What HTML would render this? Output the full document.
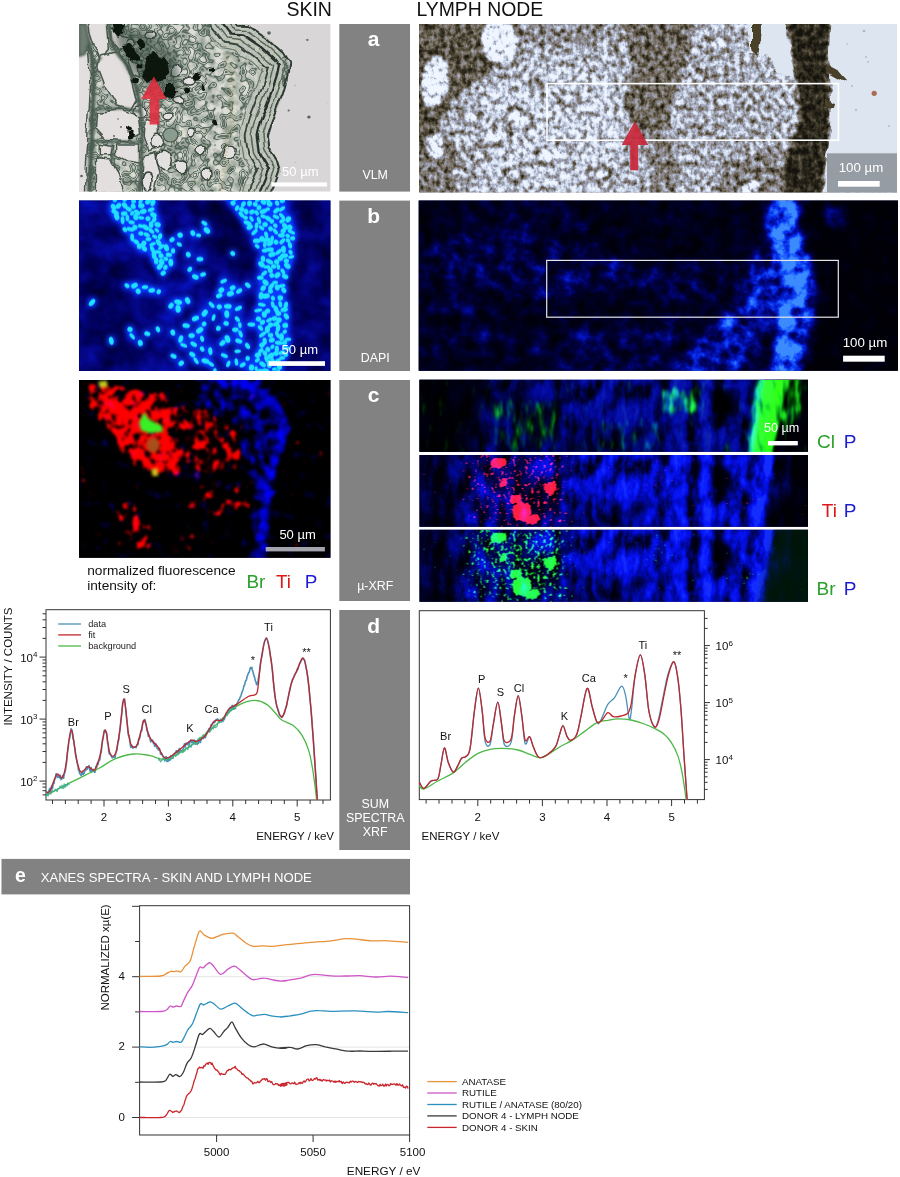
<!DOCTYPE html>
<html lang="en"><head><meta charset="utf-8"><title>Figure</title>
<style>
html,body{margin:0;padding:0;background:#fff;}
body{width:900px;height:1177px;overflow:hidden;font-family:"Liberation Sans",sans-serif;}
svg{display:block;}
</style></head><body>
<svg width="900" height="1177" viewBox="0 0 900 1177">
<defs>

<filter id="netA" x="-5%" y="-5%" width="110%" height="110%" color-interpolation-filters="sRGB">
 <feGaussianBlur in="SourceGraphic" stdDeviation="1.2" result="m"/>
 <feTurbulence type="fractalNoise" baseFrequency="0.155" numOctaves="1" seed="11" result="n"/>
 <feColorMatrix in="n" type="matrix" values="1 0 0 0 0 1 0 0 0 0 1 0 0 0 0 0 0 0 0 1" result="ng"/>
 <feComposite in="m" in2="ng" operator="arithmetic" k1="0" k2="1.5" k3="2.0" k4="-1.25" result="v"/>
 <feColorMatrix in="v" type="matrix" values="0 0 0 0 0.24 0 0 0 0 0.32 0 0 0 0 0.27 1 0 0 0 0" result="a"/>
 <feComponentTransfer in="a"><feFuncA type="table" tableValues="0 0 0 .2 .6 1 1 .5 .15 .15 .5 1 1 .5 .1 0 0 0 0 0 0"/></feComponentTransfer>
 <feGaussianBlur stdDeviation="0.6"/>
</filter>
<filter id="roughV" x="-10%" y="-10%" width="120%" height="120%">
 <feTurbulence type="fractalNoise" baseFrequency="0.06" numOctaves="2" seed="14" result="n"/>
 <feDisplacementMap in="SourceGraphic" in2="n" scale="8" xChannelSelector="R" yChannelSelector="G"/>
 <feGaussianBlur stdDeviation="0.5"/>
</filter>
<filter id="mott" x="0" y="0" width="100%" height="100%" color-interpolation-filters="sRGB">
 <feTurbulence type="fractalNoise" baseFrequency="0.11" numOctaves="3" seed="21" result="n"/>
 <feColorMatrix in="n" type="matrix" values="0 0 0 0 0.3 0 0 0 0 0.38 0 0 0 0 0.33 0 1.2 0 0 -0.42" result="a"/>
 <feComposite in="a" in2="SourceGraphic" operator="in"/>
</filter>
<filter id="roughE" x="-10%" y="-10%" width="120%" height="120%">
 <feTurbulence type="fractalNoise" baseFrequency="0.045" numOctaves="2" seed="2" result="n"/>
 <feDisplacementMap in="SourceGraphic" in2="n" scale="7" xChannelSelector="R" yChannelSelector="G"/>
 <feGaussianBlur stdDeviation="0.55"/>
</filter>
<filter id="b05"><feGaussianBlur stdDeviation="0.5"/></filter>
<filter id="b08"><feGaussianBlur stdDeviation="0.8"/></filter>
<filter id="b15"><feGaussianBlur stdDeviation="1.5"/></filter>
<filter id="b3"><feGaussianBlur stdDeviation="3"/></filter>
<filter id="b6"><feGaussianBlur stdDeviation="6"/></filter>
<filter id="rough" x="-10%" y="-10%" width="120%" height="120%">
 <feTurbulence type="fractalNoise" baseFrequency="0.12" numOctaves="2" seed="4" result="n"/>
 <feDisplacementMap in="SourceGraphic" in2="n" scale="7" xChannelSelector="R" yChannelSelector="G"/>
 <feGaussianBlur stdDeviation="0.45"/>
</filter>


<filter id="lymA" x="-5%" y="-5%" width="110%" height="110%" color-interpolation-filters="sRGB">
 <feGaussianBlur in="SourceGraphic" stdDeviation="2.2" result="m"/>
 <feTurbulence type="fractalNoise" baseFrequency="0.19 0.16" numOctaves="3" seed="23" result="n"/>
 <feColorMatrix in="n" type="matrix" values="1 0 0 0 0 1 0 0 0 0 1 0 0 0 0 0 0 0 0 1" result="ng"/>
 <feComposite in="m" in2="ng" operator="arithmetic" k1="1.2" k2="0.4" k3="0.5" k4="-0.25" result="v"/>
 <feComponentTransfer in="v"><feFuncR type="table" tableValues="0.086 0.157 0.251 0.376 0.494 0.557 0.635 0.745 0.843 0.902 0.941"/><feFuncG type="table" tableValues="0.078 0.145 0.231 0.345 0.463 0.553 0.659 0.784 0.882 0.933 0.965"/><feFuncB type="table" tableValues="0.055 0.102 0.173 0.275 0.431 0.588 0.729 0.863 0.949 0.980 1.000"/></feComponentTransfer>
 <feGaussianBlur stdDeviation="0.6"/>
</filter>
<filter id="rough2" x="-10%" y="-10%" width="120%" height="120%">
 <feTurbulence type="fractalNoise" baseFrequency="0.07" numOctaves="2" seed="9" result="n"/>
 <feDisplacementMap in="SourceGraphic" in2="n" scale="9" xChannelSelector="R" yChannelSelector="G"/>
 <feGaussianBlur stdDeviation="0.7"/>
</filter>


<filter id="glowB" x="-5%" y="-5%" width="110%" height="110%" color-interpolation-filters="sRGB">
 <feGaussianBlur in="SourceAlpha" stdDeviation="3" result="g"/>
 <feComponentTransfer in="g" result="g2"><feFuncA type="linear" slope="3"/></feComponentTransfer>
 <feFlood flood-color="#0a3cff"/><feComposite in2="g2" operator="in" result="glow"/>
 <feGaussianBlur in="SourceGraphic" stdDeviation="0.55" result="sg"/>
 <feMerge><feMergeNode in="glow"/><feMergeNode in="sg"/></feMerge>
</filter>
<filter id="hazeB" x="-5%" y="-5%" width="110%" height="110%" color-interpolation-filters="sRGB">
 <feGaussianBlur in="SourceGraphic" stdDeviation="5" result="m"/>
 <feTurbulence type="fractalNoise" baseFrequency="0.05" numOctaves="3" seed="5" result="n"/>
 <feColorMatrix in="n" type="matrix" values="1 0 0 0 0 1 0 0 0 0 1 0 0 0 0 0 0 0 0 1" result="ng"/>
 <feComposite in="m" in2="ng" operator="arithmetic" k1="0" k2="1" k3="0.7" k4="-0.35" result="v"/>
 <feComponentTransfer in="v"><feFuncR type="table" tableValues="0 0 .01 .02 .02 .02 .03"/><feFuncG type="table" tableValues="0 0 .01 .03 .06 .12 .2"/><feFuncB type="table" tableValues=".16 .3 .42 .55 .7 .85 1"/></feComponentTransfer>
</filter>


<filter id="lymB" x="-5%" y="-5%" width="110%" height="110%" color-interpolation-filters="sRGB">
 <feGaussianBlur in="SourceGraphic" stdDeviation="4" result="m"/>
 <feTurbulence type="fractalNoise" baseFrequency="0.07" numOctaves="4" seed="31" result="n"/>
 <feColorMatrix in="n" type="matrix" values="1 0 0 0 0 1 0 0 0 0 1 0 0 0 0 0 0 0 0 1" result="ng"/>
 <feComposite in="m" in2="ng" operator="arithmetic" k1="1.1" k2="0.45" k3="0.45" k4="-0.225" result="v"/>
 <feComponentTransfer in="v"><feFuncR type="table" tableValues="0.000 0.000 0.000 0.000 0.000 0.004 0.008 0.020 0.047 0.125 0.235"/><feFuncG type="table" tableValues="0.000 0.000 0.000 0.000 0.004 0.016 0.047 0.118 0.243 0.392 0.549"/><feFuncB type="table" tableValues="0.024 0.055 0.102 0.165 0.275 0.424 0.627 0.824 0.961 1.000 1.000"/></feComponentTransfer>
</filter>


<filter id="xrfL" x="-5%" y="-5%" width="110%" height="110%" color-interpolation-filters="sRGB">
 <feGaussianBlur in="SourceGraphic" stdDeviation="2.2" result="m"/>
 <feTurbulence type="fractalNoise" baseFrequency="0.13 0.1" numOctaves="2" seed="8" result="n"/>
 <feColorMatrix in="n" type="matrix" values="1 0 0 0 0 0 1 0 0 0 0 0 1 0 0 0 0 0 0 1" result="ng"/>
 <feComposite in="m" in2="ng" operator="arithmetic" k1="0" k2="1" k3="1.25" k4="-0.625" result="v"/>
 <feComponentTransfer in="v"><feFuncR type="table" tableValues="0 0 0 0 .12 .65 1 1 1 1 1"/><feFuncG type="table" tableValues="0 0 0 0 0 .05 .1 .14 .18 .2 .2"/><feFuncB type="table" tableValues="0 0 .04 .14 .3 .48 .66 .8 .9 .96 1"/></feComponentTransfer>
 <feGaussianBlur stdDeviation="0.9"/>
</filter>


<filter id="xrfB" x="-5%" y="-10%" width="110%" height="120%" color-interpolation-filters="sRGB">
 <feGaussianBlur in="SourceGraphic" stdDeviation="3" result="m"/>
 <feTurbulence type="fractalNoise" baseFrequency="0.075 0.04" numOctaves="4" seed="17" result="n"/>
 <feColorMatrix in="n" type="matrix" values="1 0 0 0 0 1 0 0 0 0 1 0 0 0 0 0 0 0 0 1" result="ng"/>
 <feComposite in="m" in2="ng" operator="arithmetic" k1="2.3" k2="-0.15" k3="0.25" k4="-0.125" result="v"/>
 <feComponentTransfer in="v"><feFuncR type="table" tableValues="0 0 0 0 0 0 .01 .02 .03 .05 .08"/><feFuncG type="table" tableValues="0 0 0 .01 .02 .03 .04 .06 .09 .13 .18"/><feFuncB type="table" tableValues=".02 .06 .13 .25 .42 .6 .78 .9 .97 1 1"/></feComponentTransfer>
</filter>
<filter id="dots" x="-5%" y="-10%" width="110%" height="120%" color-interpolation-filters="sRGB">
 <feGaussianBlur in="SourceGraphic" stdDeviation="6" result="m"/>
 <feTurbulence type="fractalNoise" baseFrequency="0.33 0.28" numOctaves="2" seed="41" result="n"/>
 <feColorMatrix in="n" type="matrix" values="1 0 0 0 0 1 0 0 0 0 1 0 0 0 0 0 0 0 0 1" result="ng"/>
 <feComposite in="m" in2="ng" operator="arithmetic" k1="0" k2="1" k3="1.5" k4="-0.75" result="v"/>
 <feComponentTransfer in="v"><feFuncR type="table" tableValues="0 0 0 0 0 .15 .7 1 1 1 1"/><feFuncG type="table" tableValues="0 0 0 0 0 .15 .7 1 1 1 1"/><feFuncB type="table" tableValues="0 0 0 0 0 0 .1 .2 .3 .3 .3"/></feComponentTransfer>
 <feGaussianBlur stdDeviation="0.5"/>
</filter>
<filter id="gband" x="-10%" y="-10%" width="120%" height="120%" color-interpolation-filters="sRGB">
 <feGaussianBlur in="SourceGraphic" stdDeviation="2.5" result="m"/>
 <feTurbulence type="fractalNoise" baseFrequency="0.16 0.05" numOctaves="2" seed="3" result="n"/>
 <feColorMatrix in="n" type="matrix" values="1 0 0 0 0 1 0 0 0 0 1 0 0 0 0 0 0 0 0 1" result="ng"/>
 <feComposite in="m" in2="ng" operator="arithmetic" k1="0" k2="1" k3="0.9" k4="-0.45" result="v"/>
 <feComponentTransfer in="v"><feFuncR type="table" tableValues="0 0 0 0 0 .05 .1 .15 .2 .2 .2"/><feFuncG type="table" tableValues="0 0 .04 .14 .32 .6 .85 1 1 1 1"/><feFuncB type="table" tableValues="0 0 0 0 0 .05 .1 .1 .1 .1 .1"/></feComponentTransfer>
</filter>
<g id="pmap">
 <rect x="-20" y="-20" width="430" height="112" fill="#585858"/>
 <path d="M-20,-20 H40 L35,92 H-20Z" fill="#343434"/>
 <path d="M40,-20 H150 L140,92 H35Z" fill="#626262"/>
 <path d="M150,-20 H330 L318,92 H140Z" fill="#8c8c8c"/>
 <path d="M196,-20 H266 L262,44 H200Z" fill="#acacac"/>
 <path d="M150,46 H236 V92 H140Z" fill="#6c6c6c"/>
 <path d="M236,-20 H246 L243,92 H233Z" fill="#5c5c5c"/>
 <path d="M294,12 h18 v22 h-18Z" fill="#181818"/>
 <path d="M106,28 h30 v30 h-30Z" fill="#343434"/>
 <path d="M342,-20 H358 L340,92 H324Z" fill="#d8d8d8"/>
 <path d="M358,-20 H430 V92 H340Z" fill="#303030"/>
 <path d="M374,-20 H430 V92 H368Z" fill="#0c0c0c"/>
</g>


<filter id="toRed" color-interpolation-filters="sRGB"><feColorMatrix type="matrix" values="1 0 0 0 0  0.12 0 0 0 0  0.16 0 0 0 0  0 0 0 1 0"/></filter>
<filter id="toGreen" color-interpolation-filters="sRGB"><feColorMatrix type="matrix" values="0.15 0 0 0 0  1 0 0 0 0  0.15 0 0 0 0  0 0 0 1 0"/></filter>

</defs>
<rect width="900" height="1177" fill="#fff"/>
<rect x="419" y="24" width="478" height="168.4" fill="#9a9ca0"/>
<rect x="79" y="200.6" width="251.4" height="170.4" fill="#081070"/>
<rect x="418.7" y="200.6" width="479" height="170.2" fill="#05083a"/>
<rect x="79" y="380" width="251.4" height="177.7" fill="#100410"/>
<rect x="419.5" y="379.8" width="388.5" height="72" fill="#06104a"/>
<rect x="419.5" y="455" width="388.5" height="71.8" fill="#0a0a5a"/>
<rect x="419.5" y="529.8" width="388.5" height="72" fill="#08185a"/>
<svg x="79" y="24" width="251.4" height="167.6" viewBox="0 0 251.4 167.6">
<rect width="252" height="168" fill="#d9d6d8"/>
<path d="M10.0,-12.0 150.0,-12.0 158.0,0.0 168.0,0.0 189.0,14.0 204.4,28.0 211.4,39.2 208.6,56.0 204.4,70.0 198.8,84.0 193.2,98.0 189.0,112.0 190.4,123.2 198.8,137.2 201.6,147.0 196.0,162.4 193.2,168.0 190.0,180.0 10.0,180.0 8.0,120.0 12.0,60.0Z" fill="#dcddd4"/>
<path d="M10.0,-12.0 150.0,-12.0 158.0,0.0 168.0,0.0 189.0,14.0 204.4,28.0 211.4,39.2 208.6,56.0 204.4,70.0 198.8,84.0 193.2,98.0 189.0,112.0 190.4,123.2 198.8,137.2 201.6,147.0 196.0,162.4 193.2,168.0 190.0,180.0 10.0,180.0 8.0,120.0 12.0,60.0Z" fill="#000" filter="url(#mott)"/>
<g filter="url(#netA)" opacity=".78"><rect x="-12" y="-12" width="276" height="192" fill="#fff"/><path d="M10.0,-12.0 150.0,-12.0 158.0,0.0 168.0,0.0 189.0,14.0 204.4,28.0 211.4,39.2 208.6,56.0 204.4,70.0 198.8,84.0 193.2,98.0 189.0,112.0 190.4,123.2 198.8,137.2 201.6,147.0 196.0,162.4 193.2,168.0 190.0,180.0 10.0,180.0 8.0,120.0 12.0,60.0Z" fill="#8a8a8a"/><path d="M118.0,8.0 150.0,10.0 172.0,40.0 168.0,70.0 160.0,100.0 156.0,180.0 132.0,180.0 128.0,110.0 112.0,70.0 100.0,40.0Z" fill="#a4a4a4"/><path d="M30.0,0.0 100.0,0.0 130.0,30.0 125.0,70.0 95.0,80.0 60.0,60.0 40.0,30.0Z" fill="#6c6c6c"/><path d="M7.7,-6.3 28.1,-6.3 30.3,25.3 21.3,36.6 14.5,23.1 10.0,9.5Z" fill="#f4f4f4"/><path d="M21.1,32.1 39.2,27.6 50.5,49.0 57.3,76.1 51.6,86.3 36.9,81.8 25.6,62.6 18.8,44.5Z" fill="#f4f4f4"/><path d="M18.6,87.4 40.1,85.1 59.3,91.9 61.6,110.0 49.2,116.7 27.7,115.6 17.5,104.3Z" fill="#f4f4f4"/><path d="M19.3,119.2 32.8,121.5 30.6,131.7 19.3,131.7Z" fill="#f4f4f4"/><path d="M35.6,119.9 60.5,119.9 60.5,139.1 46.9,136.9 35.6,130.1Z" fill="#f4f4f4"/><path d="M17.4,134.8 32.1,135.9 41.1,151.7 47.9,174.3 17.4,174.3Z" fill="#f4f4f4"/><path d="M-5.1,25.2 8.5,27.4 10.8,54.5 8.5,99.7 6.2,144.9 5.1,181.1 -5.1,181.1Z" fill="#f4f4f4"/><path d="M66.3,94.0 79.9,98.5 81.0,123.4 69.7,127.9 65.2,112.1Z" fill="#f4f4f4"/><path d="M65.2,131.9 76.5,129.6 81.0,149.9 74.3,170.3 63.0,170.3Z" fill="#f4f4f4"/><path d="M31.9,2.5 42.0,11.6 53.3,13.8 51.1,22.9 39.8,25.1 31.9,16.1Z" fill="#f4f4f4"/><path d="M48.2,34.9 58.4,39.4 60.6,53.0 53.8,50.7Z" fill="#f4f4f4"/><ellipse cx="78.0" cy="118.0" rx="6.0" ry="8.0" transform="rotate(20 78.0 118.0)" fill="#f4f4f4"/><ellipse cx="85.0" cy="136.0" rx="7.0" ry="9.0" transform="rotate(-20 85.0 136.0)" fill="#f4f4f4"/><ellipse cx="103.0" cy="143.0" rx="6.0" ry="6.0" fill="#f4f4f4"/><ellipse cx="69.0" cy="158.0" rx="5.0" ry="10.0" fill="#f4f4f4"/><ellipse cx="52.0" cy="20.0" rx="5.0" ry="5.0" fill="#f4f4f4"/><ellipse cx="97.0" cy="47.0" rx="6.0" ry="5.0" fill="#f4f4f4"/><ellipse cx="110.0" cy="58.0" rx="5.0" ry="4.0" fill="#f4f4f4"/><ellipse cx="72.0" cy="10.0" rx="5.0" ry="4.0" fill="#f4f4f4"/><ellipse cx="120.0" cy="125.0" rx="5.0" ry="5.0" fill="#f4f4f4"/><ellipse cx="112.0" cy="108.0" rx="4.0" ry="5.0" fill="#f4f4f4"/><ellipse cx="128.0" cy="150.0" rx="5.0" ry="6.0" fill="#f4f4f4"/><ellipse cx="150.0" cy="128.0" rx="5.0" ry="7.0" transform="rotate(15 150.0 128.0)" fill="#f4f4f4"/><ellipse cx="168.0" cy="157.0" rx="5.0" ry="4.0" transform="rotate(-30 168.0 157.0)" fill="#f4f4f4"/><ellipse cx="60.0" cy="88.0" rx="6.0" ry="5.0" fill="#f4f4f4"/><ellipse cx="88.0" cy="92.0" rx="5.0" ry="4.0" fill="#f4f4f4"/><ellipse cx="100.0" cy="75.0" rx="6.0" ry="4.0" fill="#f4f4f4"/></g>
<g fill="#e4dfdf" stroke="#46564c" stroke-width="1.5" filter="url(#roughV)">
<path d="M7.7,-6.3 28.1,-6.3 30.3,25.3 21.3,36.6 14.5,23.1 10.0,9.5Z" stroke-linejoin="round"/>
<path d="M21.1,32.1 39.2,27.6 50.5,49.0 57.3,76.1 51.6,86.3 36.9,81.8 25.6,62.6 18.8,44.5Z" stroke-linejoin="round"/>
<path d="M18.6,87.4 40.1,85.1 59.3,91.9 61.6,110.0 49.2,116.7 27.7,115.6 17.5,104.3Z" stroke-linejoin="round"/>
<path d="M19.3,119.2 32.8,121.5 30.6,131.7 19.3,131.7Z" stroke-linejoin="round"/>
<path d="M35.6,119.9 60.5,119.9 60.5,139.1 46.9,136.9 35.6,130.1Z" stroke-linejoin="round"/>
<path d="M17.4,134.8 32.1,135.9 41.1,151.7 47.9,174.3 17.4,174.3Z" stroke-linejoin="round"/>
<path d="M-5.1,25.2 8.5,27.4 10.8,54.5 8.5,99.7 6.2,144.9 5.1,181.1 -5.1,181.1Z" stroke-linejoin="round"/>
<path d="M66.3,94.0 79.9,98.5 81.0,123.4 69.7,127.9 65.2,112.1Z" stroke-linejoin="round"/>
<path d="M65.2,131.9 76.5,129.6 81.0,149.9 74.3,170.3 63.0,170.3Z" stroke-linejoin="round"/>
<path d="M31.9,2.5 42.0,11.6 53.3,13.8 51.1,22.9 39.8,25.1 31.9,16.1Z" stroke-linejoin="round"/>
<path d="M48.2,34.9 58.4,39.4 60.6,53.0 53.8,50.7Z" stroke-linejoin="round"/>
</g>
<g fill="#e3e0e0" stroke="#34423a" stroke-width="1.4" filter="url(#roughV)">
<ellipse cx="78.0" cy="118.0" rx="6.0" ry="8.0" transform="rotate(20 78.0 118.0)"/>
<ellipse cx="85.0" cy="136.0" rx="7.0" ry="9.0" transform="rotate(-20 85.0 136.0)"/>
<ellipse cx="103.0" cy="143.0" rx="6.0" ry="6.0"/>
<ellipse cx="69.0" cy="158.0" rx="5.0" ry="10.0"/>
<ellipse cx="52.0" cy="20.0" rx="5.0" ry="5.0"/>
<ellipse cx="97.0" cy="47.0" rx="6.0" ry="5.0"/>
<ellipse cx="110.0" cy="58.0" rx="5.0" ry="4.0"/>
<ellipse cx="72.0" cy="10.0" rx="5.0" ry="4.0"/>
<ellipse cx="120.0" cy="125.0" rx="5.0" ry="5.0"/>
<ellipse cx="112.0" cy="108.0" rx="4.0" ry="5.0"/>
<ellipse cx="128.0" cy="150.0" rx="5.0" ry="6.0"/>
<ellipse cx="150.0" cy="128.0" rx="5.0" ry="7.0" transform="rotate(15 150.0 128.0)"/>
<ellipse cx="168.0" cy="157.0" rx="5.0" ry="4.0" transform="rotate(-30 168.0 157.0)"/>
<ellipse cx="60.0" cy="88.0" rx="6.0" ry="5.0"/>
<ellipse cx="88.0" cy="92.0" rx="5.0" ry="4.0"/>
<ellipse cx="100.0" cy="75.0" rx="6.0" ry="4.0"/>
</g>
<ellipse cx="91.5" cy="111.0" rx="7.5" ry="7.0" fill="#8a9c8e" stroke="#4a5a50" stroke-width="1.2" filter="url(#b05)"/>
<g fill="none" stroke="#4a5b51" stroke-linecap="round" stroke-linejoin="round" filter="url(#b08)">
<path d="M2,-4 C8,12 13,26 14,44 C16,62 13,85 13,110 C12,135 11,150 10,172" stroke-width="4.6"/>
<path d="M29,-4 C30,18 36,28 46,38 C56,54 60,70 62,90 C64,110 63,135 60,172" stroke-width="3.4"/>
<path d="M14,40 C18,38 20,36 22,34" stroke-width="2"/>
<path d="M14,86 C22,85 30,84 40,84 C50,85 56,86 61,88" stroke-width="2.6"/>
<path d="M14,117 C24,118 36,118 61,118" stroke-width="2.4"/>
<path d="M33,120 C35,128 34,134 33,138" stroke-width="2"/>
<path d="M0,0 L7,0 L10,18 L6,30 L0,32Z" stroke-width="2" fill="#6d7d72"/>
</g>
<g fill="none" stroke-linejoin="round" filter="url(#b05)">
<path d="M137.5,-3.7 149.7,12.5 161.8,13.7 179.9,25.9 193.2,38.0 196.6,41.4 194.0,52.7 190.2,65.0 184.9,78.4 179.0,93.0 174.1,110.3 176.4,128.6 185.2,143.6 186.7,145.3 182.1,156.8 179.0,163.2 175.5,176.1" stroke="#c4c9bd" stroke-width="30" opacity=".85"/>
</g><g fill="none" stroke-linejoin="round" filter="url(#roughE)">
<path d="M149.2,-11.4 157.4,0.8 167.6,0.9 188.4,14.8 203.7,28.7 210.4,39.3 207.6,55.8 203.5,69.7 197.9,83.6 192.3,97.7 188.0,111.9 189.5,123.6 197.9,137.6 200.6,146.9 195.1,162.0 192.3,167.7 189.0,179.7" stroke="#2e3a34" stroke-width="2.0"/>
<path d="M145.0,-8.7 154.7,5.0 165.5,5.5 185.3,18.8 199.9,32.0 205.5,40.1 202.7,54.7 198.7,68.0 193.2,81.8 187.5,96.0 183.0,111.3 184.8,125.4 193.4,139.8 195.6,146.3 190.4,160.2 187.5,166.1 184.2,178.5" stroke="#55655a" stroke-width="1.5"/>
<path d="M140.4,-5.6 151.6,9.6 163.3,10.5 182.0,23.1 195.8,35.6 200.0,40.9 197.4,53.5 193.5,66.2 188.1,79.7 182.3,94.2 177.6,110.7 179.7,127.4 188.4,142.1 190.2,145.7 185.3,158.1 182.3,164.3 178.9,177.0" stroke="#27332d" stroke-width="2.3"/>
<path d="M135.9,-2.6 148.6,14.1 161.0,15.5 178.6,27.5 191.7,39.3 194.6,41.7 192.0,52.2 188.4,64.4 183.0,77.7 177.2,92.4 172.1,110.1 174.6,129.4 183.4,144.4 184.7,145.1 180.2,156.1 177.1,162.5 173.6,175.6" stroke="#55655a" stroke-width="1.5"/>
<path d="M131.3,0.5 145.5,18.7 158.7,20.5 175.3,31.8 187.6,42.9 189.1,42.5 186.7,51.0 183.2,62.6 177.9,75.6 172.0,90.6 166.6,109.5 169.4,131.4 178.4,146.8 179.2,144.5 175.1,154.0 171.9,160.7 168.3,174.2" stroke="#36443c" stroke-width="1.9"/>
<path d="M126.3,3.8 142.2,23.7 156.3,26.0 171.6,36.6 183.1,46.9 183.2,43.4 180.8,49.7 177.5,60.6 172.3,73.4 166.3,88.6 160.7,108.9 163.8,133.5 173.0,149.3 173.3,143.9 169.5,151.8 166.2,158.8 162.5,172.7" stroke="#6a786e" stroke-width="1.2"/>
</g>
<path d="M146,30 C158,60 154,100 146,135 L142,168" fill="none" stroke="#b9a36b" stroke-width="4" stroke-dasharray="1.2 2.2" opacity=".45"/>
<path d="M36.0,2.0 70.0,8.0 95.0,30.0 102.0,60.0 96.0,76.0 70.0,66.0 50.0,44.0 38.0,20.0Z" fill="#33453b" opacity=".55" filter="url(#b3)"/>
<g fill="#0b1410" filter="url(#rough)">
<path d="M33.0,0.0 44.0,0.0 43.0,9.0 38.0,14.0 34.0,9.0Z"/>
<path d="M42.0,21.0 50.0,20.0 58.0,28.0 62.0,36.0 56.0,37.0 47.0,32.0Z"/>
<path d="M68.0,30.0 75.0,28.0 80.0,34.0 88.0,36.0 90.0,46.0 86.0,55.0 76.0,57.0 68.0,58.0 63.0,52.0 66.0,42.0Z"/>
<path d="M85.0,60.0 96.0,60.0 99.0,68.0 92.0,74.0 85.0,70.0Z"/>
<ellipse cx="57.0" cy="56.0" rx="2.8" ry="3.2"/>
<ellipse cx="62.0" cy="20.0" rx="3.0" ry="5.5" transform="rotate(-15 62.0 20.0)"/>
<ellipse cx="60.0" cy="42.0" rx="2.5" ry="2.5"/>
<ellipse cx="52.0" cy="111.0" rx="4.0" ry="4.5"/>
<ellipse cx="50.0" cy="104.0" rx="3.0" ry="2.5"/>
<ellipse cx="118.0" cy="53.0" rx="3.5" ry="4.5" transform="rotate(20 118.0 53.0)"/>
<ellipse cx="131.0" cy="46.0" rx="3.0" ry="2.5"/>
<ellipse cx="124.0" cy="64.0" rx="2.5" ry="3.0"/>
<ellipse cx="108.0" cy="66.0" rx="3.0" ry="2.2"/>
<ellipse cx="136.0" cy="99.0" rx="3.0" ry="2.5"/>
</g>
<g fill="#58625c" filter="url(#b05)">
<circle cx="190.0" cy="9.0" r="1.8"/>
<circle cx="2.5" cy="152.0" r="1.3"/>
<circle cx="230.0" cy="93.0" r="1.6"/>
<circle cx="35.0" cy="112.0" r="1.0"/>
<circle cx="42.0" cy="103.0" r="0.9"/>
<circle cx="39.0" cy="95.0" r="0.8"/>
</g>
<path d="M74.9,52.5 L87.5,75 L80.2,75 L80.2,100.4 L70.6,100.4 L70.6,75 L62.3,75 Z" fill="#e02b3c" opacity=".88"/>
<rect x="192.4" y="158.4" width="55.6" height="4.1" fill="#fff"/>
<text x="221.3" y="151.6" font-family="Liberation Sans, sans-serif" font-size="13" fill="#fff" text-anchor="middle">50 µm</text>
</svg>
<svg x="419" y="24" width="478" height="168.4" viewBox="0 0 478 168.4">
<g filter="url(#lymA)"><rect x="-20" y="-20" width="518" height="210" fill="#a0a0a0"/><path d="M-20.0,-20.0 110.0,-20.0 95.0,20.0 70.0,50.0 40.0,70.0 15.0,110.0 -20.0,130.0Z" fill="#4a4a4a"/><path d="M-20.0,120.0 30.0,110.0 45.0,140.0 30.0,190.0 -20.0,190.0Z" fill="#696969"/><path d="M200.0,-20.0 275.0,-20.0 270.0,30.0 255.0,70.0 245.0,110.0 225.0,120.0 205.0,80.0 215.0,40.0Z" fill="#585858"/><path d="M225.0,110.0 250.0,100.0 262.0,150.0 250.0,190.0 225.0,190.0 232.0,150.0Z" fill="#707070"/><path d="M110.0,-20.0 200.0,-20.0 200.0,10.0 150.0,25.0 105.0,20.0Z" fill="#7a7a7a"/><path d="M60.0,70.0 130.0,40.0 190.0,50.0 205.0,110.0 190.0,160.0 120.0,175.0 60.0,150.0 40.0,110.0Z" fill="#b8b8b8"/><path d="M268.0,60.0 330.0,40.0 360.0,80.0 355.0,140.0 330.0,170.0 280.0,160.0 262.0,110.0Z" fill="#969696"/><path d="M362.0,-20.0 372.0,20.0 378.0,60.0 381.0,95.0 372.0,120.0 362.0,150.0 365.0,190.0 402.0,190.0 405.0,150.0 410.0,110.0 411.0,70.0 409.0,30.0 414.0,-20.0Z" fill="#1c1c1c"/><path d="M300.0,140.0 362.0,120.0 366.0,190.0 300.0,190.0Z" fill="#707070"/><ellipse cx="16.0" cy="58.0" rx="15.0" ry="27.0" transform="rotate(8 16.0 58.0)" fill="#fff" stroke="#323232" stroke-width="3.5"/><ellipse cx="81.0" cy="18.0" rx="20.0" ry="24.0" transform="rotate(-15 81.0 18.0)" fill="#fff" stroke="#323232" stroke-width="3.5"/><ellipse cx="17.0" cy="122.0" rx="10.0" ry="16.0" fill="#fff" stroke="#323232" stroke-width="3.5"/><ellipse cx="52.0" cy="92.0" rx="10.0" ry="7.0" transform="rotate(-20 52.0 92.0)" fill="#fff" stroke="#323232" stroke-width="3.5"/><ellipse cx="74.0" cy="112.0" rx="16.0" ry="8.0" transform="rotate(-10 74.0 112.0)" fill="#fff" stroke="#323232" stroke-width="3.5"/><ellipse cx="40.0" cy="150.0" rx="10.0" ry="6.0" fill="#fff" stroke="#323232" stroke-width="3.5"/><ellipse cx="205.0" cy="22.0" rx="6.0" ry="8.0" fill="#fff" stroke="#323232" stroke-width="3.5"/><ellipse cx="116.0" cy="60.0" rx="6.0" ry="4.0" fill="#fff" stroke="#323232" stroke-width="3.5"/><ellipse cx="330.0" cy="165.0" rx="14.0" ry="8.0" transform="rotate(-30 330.0 165.0)" fill="#fff" stroke="#323232" stroke-width="3.5"/><ellipse cx="100.0" cy="95.0" rx="14.0" ry="9.0" transform="rotate(20 100.0 95.0)" fill="#fff" stroke="#323232" stroke-width="3.5"/><ellipse cx="135.0" cy="130.0" rx="18.0" ry="9.0" transform="rotate(-10 135.0 130.0)" fill="#fff" stroke="#323232" stroke-width="3.5"/><ellipse cx="150.0" cy="75.0" rx="10.0" ry="6.0" fill="#fff" stroke="#323232" stroke-width="3.5"/><ellipse cx="60.0" cy="130.0" rx="9.0" ry="6.0" transform="rotate(30 60.0 130.0)" fill="#fff" stroke="#323232" stroke-width="3.5"/><ellipse cx="180.0" cy="150.0" rx="12.0" ry="6.0" fill="#fff" stroke="#323232" stroke-width="3.5"/><ellipse cx="95.0" cy="150.0" rx="10.0" ry="5.0" fill="#fff" stroke="#323232" stroke-width="3.5"/><ellipse cx="300.0" cy="20.0" rx="10.0" ry="7.0" fill="#fff" stroke="#323232" stroke-width="3.5"/><ellipse cx="285.0" cy="45.0" rx="8.0" ry="5.0" transform="rotate(30 285.0 45.0)" fill="#fff" stroke="#323232" stroke-width="3.5"/></g>
<g fill="#dde6f0" filter="url(#rough2)">
<path d="M412.0,-20.0 410.0,30.0 412.0,70.0 411.0,110.0 406.0,150.0 403.0,190.0 500.0,190.0 500.0,-20.0Z"/>
<path d="M325.0,-20.0 362.0,-20.0 370.0,20.0 376.0,55.0 360.0,50.0 345.0,30.0 332.0,30.0Z"/>
</g>
<g fill="#4a3f2c" filter="url(#rough2)">
<path d="M333.0,-20.0 342.0,-20.0 343.0,8.0 339.0,32.0 333.0,26.0Z"/>
<path d="M407.0,40.0 420.0,47.0 428.0,56.0 424.0,58.0 408.0,49.0Z"/>
<path d="M407.0,76.0 416.0,79.0 415.0,84.0 407.0,83.0Z"/>
</g>
<circle cx="455.2" cy="69.3" r="2.6" fill="#a86a52" filter="url(#b05)"/>
<g fill="#9aa4b8" opacity=".7" filter="url(#b05)">
<circle cx="445.0" cy="7.0" r="1.3"/>
<circle cx="447.0" cy="33.0" r="1.0"/>
<circle cx="449.0" cy="38.0" r="0.9"/>
<circle cx="433.0" cy="62.0" r="1.0"/>
<circle cx="437.0" cy="86.0" r="1.1"/>
<circle cx="470.0" cy="102.0" r="0.9"/>
<circle cx="428.0" cy="20.0" r="0.8"/>
</g>
<rect x="408" y="129.3" width="70" height="40" fill="#8e939a" opacity=".9"/>
<rect x="128" y="59.6" width="291.4" height="56.6" fill="none" stroke="#fff" stroke-width="1.6"/>
<path d="M215.7,97.3 L229.4,121 L219.2,121 L219.2,146.2 L211.2,146.2 L211.2,121 L202.7,121 Z" fill="#c8283a" opacity=".93"/>
<rect x="419" y="157" width="41.7" height="5.7" fill="#fff"/>
<text x="442" y="147.8" font-family="Liberation Sans, sans-serif" font-size="13.3" fill="#fff" text-anchor="middle">100 µm</text>
</svg>
<svg x="79" y="200.6" width="251.4" height="170.4" viewBox="0 0 251.4 170.4">
<g filter="url(#hazeB)"><rect x="-15" y="-15" width="282" height="201" fill="#505050"/><path d="M-15.6,-16.2 198.2,-16.2 218.4,21.4 215.6,53.2 208.3,82.1 211.2,116.7 212.7,139.8 198.2,186.1 -15.6,186.1Z" fill="#696969"/><path d="M82.7,1.2 146.2,1.2 169.3,27.2 178.0,53.2 157.8,64.7 131.8,47.4 111.6,12.7Z" fill="#282828"/><path d="M13.3,53.2 48.0,61.8 53.8,90.7 91.3,116.7 82.7,157.2 30.7,168.7 7.6,139.8 1.8,82.1Z" fill="#3e3e3e"/><path d="M91.3,67.6 117.3,90.7 111.6,116.7 91.3,105.2Z" fill="#323232"/><path d="M30.7,-1.7 75.4,-1.7 81.2,30.1 92.8,61.8 84.1,73.4 68.2,54.6 49.4,34.4 35.0,12.7Z" fill="#969696"/><path d="M144.8,-10.4 198.2,-10.4 217.0,21.4 214.1,53.2 205.4,82.1 208.3,116.7 211.2,139.8 198.2,180.3 166.4,180.3 183.8,139.8 177.4,111.0 180.9,82.1 180.9,53.2 169.3,24.3Z" fill="#a5a5a5"/><path d="M45.1,73.4 85.6,76.3 117.3,82.1 175.1,76.3 180.9,174.5 91.3,174.5 53.8,134.1Z" fill="#767676"/></g>
<g fill="#1fe0ff" filter="url(#glowB)"><ellipse cx="72.1" cy="9.0" rx="3.5" ry="2.2" transform="rotate(161 72.1 9.0)"/><ellipse cx="73.6" cy="43.5" rx="3.4" ry="1.9" transform="rotate(158 73.6 43.5)"/><ellipse cx="65.3" cy="48.0" rx="3.2" ry="2.3" transform="rotate(43 65.3 48.0)"/><ellipse cx="51.6" cy="28.7" rx="4.1" ry="2.1" transform="rotate(13 51.6 28.7)"/><ellipse cx="62.3" cy="5.1" rx="3.3" ry="2.6" transform="rotate(172 62.3 5.1)"/><ellipse cx="73.9" cy="2.1" rx="3.7" ry="2.3" transform="rotate(110 73.9 2.1)"/><ellipse cx="67.7" cy="34.1" rx="3.4" ry="2.1" transform="rotate(28 67.7 34.1)"/><ellipse cx="54.6" cy="0.6" rx="2.5" ry="2.3" transform="rotate(171 54.6 0.6)"/><ellipse cx="73.5" cy="48.9" rx="3.9" ry="2.1" transform="rotate(66 73.5 48.9)"/><ellipse cx="37.7" cy="15.9" rx="3.8" ry="2.6" transform="rotate(74 37.7 15.9)"/><ellipse cx="53.2" cy="36.7" rx="4.0" ry="2.0" transform="rotate(87 53.2 36.7)"/><ellipse cx="81.0" cy="35.8" rx="3.4" ry="2.2" transform="rotate(102 81.0 35.8)"/><ellipse cx="43.6" cy="19.5" rx="3.9" ry="2.0" transform="rotate(88 43.6 19.5)"/><ellipse cx="53.3" cy="12.5" rx="2.7" ry="1.9" transform="rotate(134 53.3 12.5)"/><ellipse cx="78.5" cy="24.0" rx="3.3" ry="2.6" transform="rotate(20 78.5 24.0)"/><ellipse cx="45.7" cy="-1.1" rx="2.5" ry="2.2" transform="rotate(171 45.7 -1.1)"/><ellipse cx="61.9" cy="0.1" rx="3.8" ry="1.9" transform="rotate(114 61.9 0.1)"/><ellipse cx="82.3" cy="46.3" rx="3.8" ry="1.8" transform="rotate(141 82.3 46.3)"/><ellipse cx="60.3" cy="45.4" rx="3.0" ry="2.5" transform="rotate(84 60.3 45.4)"/><ellipse cx="74.4" cy="14.4" rx="3.5" ry="2.6" transform="rotate(32 74.4 14.4)"/><ellipse cx="48.4" cy="17.4" rx="3.3" ry="1.9" transform="rotate(87 48.4 17.4)"/><ellipse cx="56.8" cy="16.4" rx="3.3" ry="2.6" transform="rotate(84 56.8 16.4)"/><ellipse cx="77.9" cy="29.7" rx="2.8" ry="1.8" transform="rotate(43 77.9 29.7)"/><ellipse cx="79.7" cy="41.9" rx="4.0" ry="2.4" transform="rotate(59 79.7 41.9)"/><ellipse cx="86.8" cy="58.2" rx="2.6" ry="2.1" transform="rotate(13 86.8 58.2)"/><ellipse cx="86.4" cy="66.7" rx="2.7" ry="2.2" transform="rotate(112 86.4 66.7)"/><ellipse cx="54.2" cy="5.7" rx="2.9" ry="2.5" transform="rotate(66 54.2 5.7)"/><ellipse cx="52.6" cy="21.7" rx="3.3" ry="2.0" transform="rotate(12 52.6 21.7)"/><ellipse cx="45.9" cy="28.9" rx="2.8" ry="2.1" transform="rotate(51 45.9 28.9)"/><ellipse cx="39.5" cy="5.1" rx="3.4" ry="2.5" transform="rotate(131 39.5 5.1)"/><ellipse cx="58.2" cy="11.8" rx="3.7" ry="2.1" transform="rotate(37 58.2 11.8)"/><ellipse cx="72.1" cy="23.9" rx="3.5" ry="2.4" transform="rotate(90 72.1 23.9)"/><ellipse cx="61.7" cy="25.4" rx="2.9" ry="2.0" transform="rotate(13 61.7 25.4)"/><ellipse cx="49.7" cy="8.5" rx="3.2" ry="2.3" transform="rotate(26 49.7 8.5)"/><ellipse cx="69.0" cy="18.1" rx="2.6" ry="2.6" transform="rotate(29 69.0 18.1)"/><ellipse cx="55.9" cy="26.8" rx="2.8" ry="2.7" transform="rotate(122 55.9 26.8)"/><ellipse cx="75.1" cy="19.2" rx="2.9" ry="2.1" transform="rotate(125 75.1 19.2)"/><ellipse cx="34.5" cy="6.4" rx="3.4" ry="2.5" transform="rotate(59 34.5 6.4)"/><ellipse cx="45.7" cy="4.8" rx="3.4" ry="2.5" transform="rotate(60 45.7 4.8)"/><ellipse cx="82.0" cy="55.2" rx="2.7" ry="2.6" transform="rotate(169 82.0 55.2)"/><ellipse cx="84.2" cy="72.6" rx="2.9" ry="2.3" transform="rotate(139 84.2 72.6)"/><ellipse cx="69.5" cy="38.5" rx="3.0" ry="2.1" transform="rotate(1 69.5 38.5)"/><ellipse cx="89.8" cy="54.2" rx="3.2" ry="2.3" transform="rotate(8 89.8 54.2)"/><ellipse cx="64.7" cy="43.0" rx="3.3" ry="2.6" transform="rotate(114 64.7 43.0)"/><ellipse cx="66.5" cy="26.7" rx="4.1" ry="2.5" transform="rotate(35 66.5 26.7)"/><ellipse cx="61.9" cy="32.8" rx="2.7" ry="2.2" transform="rotate(177 61.9 32.8)"/><ellipse cx="45.2" cy="13.0" rx="3.3" ry="2.4" transform="rotate(177 45.2 13.0)"/><ellipse cx="75.1" cy="54.7" rx="4.2" ry="2.4" transform="rotate(81 75.1 54.7)"/><ellipse cx="75.8" cy="36.0" rx="3.0" ry="1.9" transform="rotate(27 75.8 36.0)"/><ellipse cx="82.7" cy="61.3" rx="3.4" ry="2.7" transform="rotate(75 82.7 61.3)"/><ellipse cx="77.3" cy="60.2" rx="3.6" ry="2.3" transform="rotate(89 77.3 60.2)"/><ellipse cx="78.9" cy="51.3" rx="3.7" ry="1.9" transform="rotate(4 78.9 51.3)"/><ellipse cx="91.8" cy="61.8" rx="3.9" ry="2.5" transform="rotate(85 91.8 61.8)"/><ellipse cx="87.4" cy="47.1" rx="3.7" ry="2.6" transform="rotate(75 87.4 47.1)"/><ellipse cx="64.3" cy="10.8" rx="3.5" ry="2.6" transform="rotate(163 64.3 10.8)"/><ellipse cx="72.3" cy="30.3" rx="3.6" ry="2.0" transform="rotate(41 72.3 30.3)"/><ellipse cx="36.1" cy="11.5" rx="4.1" ry="2.2" transform="rotate(28 36.1 11.5)"/><ellipse cx="36.0" cy="-1.2" rx="2.7" ry="2.3" transform="rotate(106 36.0 -1.2)"/><ellipse cx="69.3" cy="0.5" rx="3.8" ry="2.6" transform="rotate(130 69.3 0.5)"/><ellipse cx="80.8" cy="65.9" rx="3.5" ry="2.6" transform="rotate(130 80.8 65.9)"/><ellipse cx="57.1" cy="41.1" rx="3.2" ry="2.2" transform="rotate(33 57.1 41.1)"/><ellipse cx="62.2" cy="17.2" rx="3.3" ry="1.8" transform="rotate(7 62.2 17.2)"/><ellipse cx="184.4" cy="15.8" rx="3.1" ry="2.0" transform="rotate(17 184.4 15.8)"/><ellipse cx="190.6" cy="61.0" rx="4.2" ry="2.3" transform="rotate(29 190.6 61.0)"/><ellipse cx="198.4" cy="74.5" rx="3.6" ry="2.5" transform="rotate(139 198.4 74.5)"/><ellipse cx="191.6" cy="134.6" rx="2.8" ry="2.3" transform="rotate(178 191.6 134.6)"/><ellipse cx="192.6" cy="-10.2" rx="2.8" ry="2.2" transform="rotate(152 192.6 -10.2)"/><ellipse cx="184.2" cy="87.6" rx="3.2" ry="2.5" transform="rotate(124 184.2 87.6)"/><ellipse cx="204.5" cy="48.8" rx="3.8" ry="2.5" transform="rotate(89 204.5 48.8)"/><ellipse cx="164.4" cy="3.5" rx="3.2" ry="2.2" transform="rotate(118 164.4 3.5)"/><ellipse cx="177.0" cy="-8.7" rx="3.8" ry="2.2" transform="rotate(118 177.0 -8.7)"/><ellipse cx="199.4" cy="112.9" rx="3.0" ry="2.5" transform="rotate(168 199.4 112.9)"/><ellipse cx="195.4" cy="168.4" rx="2.6" ry="1.8" transform="rotate(166 195.4 168.4)"/><ellipse cx="182.8" cy="38.3" rx="3.1" ry="2.7" transform="rotate(99 182.8 38.3)"/><ellipse cx="199.9" cy="142.3" rx="4.2" ry="2.2" transform="rotate(7 199.9 142.3)"/><ellipse cx="162.3" cy="13.8" rx="3.6" ry="2.0" transform="rotate(52 162.3 13.8)"/><ellipse cx="177.5" cy="25.1" rx="3.4" ry="1.9" transform="rotate(97 177.5 25.1)"/><ellipse cx="196.3" cy="25.0" rx="2.6" ry="2.1" transform="rotate(49 196.3 25.0)"/><ellipse cx="168.8" cy="-6.1" rx="2.9" ry="2.0" transform="rotate(172 168.8 -6.1)"/><ellipse cx="200.0" cy="119.4" rx="2.8" ry="2.7" transform="rotate(19 200.0 119.4)"/><ellipse cx="203.4" cy="-0.0" rx="2.8" ry="2.3" transform="rotate(167 203.4 -0.0)"/><ellipse cx="191.5" cy="124.3" rx="2.8" ry="2.6" transform="rotate(141 191.5 124.3)"/><ellipse cx="182.1" cy="95.0" rx="3.8" ry="2.5" transform="rotate(99 182.1 95.0)"/><ellipse cx="211.5" cy="51.5" rx="2.6" ry="2.1" transform="rotate(59 211.5 51.5)"/><ellipse cx="199.1" cy="127.4" rx="4.0" ry="2.2" transform="rotate(99 199.1 127.4)"/><ellipse cx="198.1" cy="2.4" rx="2.9" ry="2.1" transform="rotate(69 198.1 2.4)"/><ellipse cx="167.0" cy="11.0" rx="3.0" ry="2.5" transform="rotate(70 167.0 11.0)"/><ellipse cx="204.8" cy="89.6" rx="3.1" ry="2.3" transform="rotate(55 204.8 89.6)"/><ellipse cx="175.1" cy="-4.1" rx="2.6" ry="2.6" transform="rotate(111 175.1 -4.1)"/><ellipse cx="196.4" cy="30.8" rx="3.5" ry="1.9" transform="rotate(55 196.4 30.8)"/><ellipse cx="190.3" cy="119.3" rx="3.6" ry="1.9" transform="rotate(150 190.3 119.3)"/><ellipse cx="209.0" cy="39.7" rx="2.6" ry="2.2" transform="rotate(39 209.0 39.7)"/><ellipse cx="188.9" cy="-1.4" rx="4.2" ry="2.3" transform="rotate(72 188.9 -1.4)"/><ellipse cx="186.5" cy="81.9" rx="3.7" ry="2.7" transform="rotate(51 186.5 81.9)"/><ellipse cx="154.1" cy="2.4" rx="2.6" ry="2.6" transform="rotate(52 154.1 2.4)"/><ellipse cx="201.3" cy="97.2" rx="2.9" ry="2.7" transform="rotate(176 201.3 97.2)"/><ellipse cx="191.0" cy="42.7" rx="3.6" ry="2.5" transform="rotate(145 191.0 42.7)"/><ellipse cx="173.1" cy="11.3" rx="3.0" ry="2.4" transform="rotate(159 173.1 11.3)"/><ellipse cx="193.1" cy="53.8" rx="4.0" ry="2.6" transform="rotate(161 193.1 53.8)"/><ellipse cx="190.2" cy="163.3" rx="4.2" ry="2.6" transform="rotate(87 190.2 163.3)"/><ellipse cx="197.0" cy="16.3" rx="3.5" ry="2.0" transform="rotate(25 197.0 16.3)"/><ellipse cx="186.7" cy="-8.6" rx="3.9" ry="1.8" transform="rotate(52 186.7 -8.6)"/><ellipse cx="185.9" cy="152.6" rx="2.8" ry="2.3" transform="rotate(57 185.9 152.6)"/><ellipse cx="183.0" cy="144.4" rx="2.8" ry="2.6" transform="rotate(151 183.0 144.4)"/><ellipse cx="197.0" cy="41.5" rx="2.5" ry="2.6" transform="rotate(117 197.0 41.5)"/><ellipse cx="207.3" cy="115.7" rx="3.4" ry="2.4" transform="rotate(57 207.3 115.7)"/><ellipse cx="175.6" cy="31.4" rx="4.1" ry="1.9" transform="rotate(133 175.6 31.4)"/><ellipse cx="207.3" cy="60.1" rx="2.8" ry="2.4" transform="rotate(12 207.3 60.1)"/><ellipse cx="177.1" cy="167.9" rx="2.5" ry="1.8" transform="rotate(91 177.1 167.9)"/><ellipse cx="206.1" cy="25.8" rx="4.0" ry="2.5" transform="rotate(55 206.1 25.8)"/><ellipse cx="187.0" cy="170.4" rx="3.8" ry="2.6" transform="rotate(21 187.0 170.4)"/><ellipse cx="198.5" cy="134.0" rx="4.1" ry="1.9" transform="rotate(65 198.5 134.0)"/><ellipse cx="170.8" cy="26.5" rx="3.4" ry="2.4" transform="rotate(154 170.8 26.5)"/><ellipse cx="210.8" cy="26.6" rx="2.9" ry="2.5" transform="rotate(55 210.8 26.6)"/><ellipse cx="196.2" cy="81.9" rx="2.9" ry="1.9" transform="rotate(177 196.2 81.9)"/><ellipse cx="203.0" cy="8.2" rx="3.7" ry="1.9" transform="rotate(145 203.0 8.2)"/><ellipse cx="191.2" cy="69.5" rx="3.2" ry="2.5" transform="rotate(68 191.2 69.5)"/><ellipse cx="185.2" cy="72.7" rx="3.5" ry="2.0" transform="rotate(140 185.2 72.7)"/><ellipse cx="207.4" cy="147.5" rx="3.6" ry="2.1" transform="rotate(11 207.4 147.5)"/><ellipse cx="187.2" cy="34.0" rx="3.4" ry="2.0" transform="rotate(76 187.2 34.0)"/><ellipse cx="188.6" cy="8.6" rx="2.6" ry="2.0" transform="rotate(169 188.6 8.6)"/><ellipse cx="202.5" cy="152.1" rx="3.7" ry="2.2" transform="rotate(162 202.5 152.1)"/><ellipse cx="208.7" cy="35.1" rx="2.6" ry="2.0" transform="rotate(20 208.7 35.1)"/><ellipse cx="209.2" cy="18.7" rx="3.3" ry="2.7" transform="rotate(125 209.2 18.7)"/><ellipse cx="176.3" cy="3.7" rx="2.6" ry="2.4" transform="rotate(173 176.3 3.7)"/><ellipse cx="208.3" cy="65.2" rx="3.8" ry="2.6" transform="rotate(44 208.3 65.2)"/><ellipse cx="162.7" cy="8.7" rx="2.5" ry="2.7" transform="rotate(130 162.7 8.7)"/><ellipse cx="202.6" cy="85.3" rx="3.9" ry="1.8" transform="rotate(170 202.6 85.3)"/><ellipse cx="180.0" cy="7.0" rx="2.7" ry="2.2" transform="rotate(129 180.0 7.0)"/><ellipse cx="201.3" cy="57.9" rx="2.8" ry="2.6" transform="rotate(7 201.3 57.9)"/><ellipse cx="187.8" cy="66.2" rx="3.4" ry="1.8" transform="rotate(171 187.8 66.2)"/><ellipse cx="168.6" cy="22.3" rx="4.2" ry="2.3" transform="rotate(21 168.6 22.3)"/><ellipse cx="203.3" cy="40.7" rx="3.8" ry="2.1" transform="rotate(131 203.3 40.7)"/><ellipse cx="193.8" cy="103.8" rx="3.4" ry="1.9" transform="rotate(79 193.8 103.8)"/><ellipse cx="192.9" cy="20.7" rx="2.5" ry="2.2" transform="rotate(143 192.9 20.7)"/><ellipse cx="178.4" cy="159.5" rx="2.9" ry="2.0" transform="rotate(143 178.4 159.5)"/><ellipse cx="176.3" cy="178.4" rx="3.2" ry="2.5" transform="rotate(21 176.3 178.4)"/><ellipse cx="199.3" cy="66.3" rx="2.7" ry="2.0" transform="rotate(75 199.3 66.3)"/><ellipse cx="212.3" cy="31.4" rx="4.1" ry="1.9" transform="rotate(26 212.3 31.4)"/><ellipse cx="192.7" cy="174.5" rx="3.9" ry="2.5" transform="rotate(68 192.7 174.5)"/><ellipse cx="184.0" cy="58.3" rx="3.3" ry="2.3" transform="rotate(86 184.0 58.3)"/><ellipse cx="188.5" cy="110.4" rx="2.8" ry="2.4" transform="rotate(160 188.5 110.4)"/><ellipse cx="206.1" cy="75.8" rx="3.5" ry="2.4" transform="rotate(30 206.1 75.8)"/><ellipse cx="187.4" cy="158.4" rx="3.9" ry="1.9" transform="rotate(74 187.4 158.4)"/><ellipse cx="201.3" cy="103.6" rx="3.3" ry="2.0" transform="rotate(81 201.3 103.6)"/><ellipse cx="202.5" cy="136.3" rx="3.9" ry="2.5" transform="rotate(87 202.5 136.3)"/><ellipse cx="209.0" cy="138.8" rx="3.3" ry="1.8" transform="rotate(176 209.0 138.8)"/><ellipse cx="193.1" cy="-4.8" rx="3.5" ry="2.5" transform="rotate(152 193.1 -4.8)"/><ellipse cx="200.9" cy="-4.4" rx="3.3" ry="1.9" transform="rotate(109 200.9 -4.4)"/><ellipse cx="193.9" cy="179.8" rx="3.1" ry="2.2" transform="rotate(140 193.9 179.8)"/><ellipse cx="182.4" cy="27.1" rx="3.4" ry="1.8" transform="rotate(40 182.4 27.1)"/><ellipse cx="205.2" cy="109.1" rx="3.8" ry="2.3" transform="rotate(172 205.2 109.1)"/><ellipse cx="158.1" cy="7.4" rx="3.0" ry="2.0" transform="rotate(110 158.1 7.4)"/><ellipse cx="185.9" cy="43.9" rx="3.2" ry="1.9" transform="rotate(95 185.9 43.9)"/><ellipse cx="188.4" cy="128.8" rx="3.9" ry="2.6" transform="rotate(93 188.4 128.8)"/><ellipse cx="187.1" cy="95.4" rx="3.9" ry="2.7" transform="rotate(165 187.1 95.4)"/><ellipse cx="211.0" cy="44.7" rx="3.4" ry="2.1" transform="rotate(78 211.0 44.7)"/><ellipse cx="179.0" cy="154.3" rx="3.4" ry="2.6" transform="rotate(155 179.0 154.3)"/><ellipse cx="186.6" cy="49.6" rx="4.0" ry="2.2" transform="rotate(166 186.6 49.6)"/><ellipse cx="206.8" cy="104.8" rx="3.8" ry="2.1" transform="rotate(103 206.8 104.8)"/><ellipse cx="192.8" cy="74.9" rx="2.5" ry="2.5" transform="rotate(151 192.8 74.9)"/><ellipse cx="197.4" cy="9.9" rx="3.7" ry="2.2" transform="rotate(142 197.4 9.9)"/><ellipse cx="182.9" cy="104.1" rx="4.0" ry="1.9" transform="rotate(9 182.9 104.1)"/><ellipse cx="156.2" cy="-2.5" rx="3.0" ry="2.6" transform="rotate(10 156.2 -2.5)"/><ellipse cx="192.8" cy="139.4" rx="3.1" ry="2.6" transform="rotate(165 192.8 139.4)"/><ellipse cx="197.7" cy="61.3" rx="2.7" ry="2.5" transform="rotate(32 197.7 61.3)"/><ellipse cx="193.4" cy="146.2" rx="2.6" ry="1.9" transform="rotate(126 193.4 146.2)"/><ellipse cx="206.2" cy="124.8" rx="3.0" ry="2.7" transform="rotate(172 206.2 124.8)"/><ellipse cx="200.4" cy="166.3" rx="2.8" ry="2.6" transform="rotate(76 200.4 166.3)"/><ellipse cx="185.7" cy="140.6" rx="3.6" ry="2.2" transform="rotate(85 185.7 140.6)"/><ellipse cx="212.1" cy="56.2" rx="3.1" ry="1.8" transform="rotate(168 212.1 56.2)"/><ellipse cx="184.3" cy="10.8" rx="4.0" ry="2.5" transform="rotate(158 184.3 10.8)"/><ellipse cx="191.6" cy="28.1" rx="2.6" ry="2.4" transform="rotate(73 191.6 28.1)"/><ellipse cx="206.7" cy="153.8" rx="2.6" ry="2.3" transform="rotate(44 206.7 153.8)"/><ellipse cx="198.9" cy="176.8" rx="3.3" ry="1.9" transform="rotate(91 198.9 176.8)"/><ellipse cx="198.8" cy="171.7" rx="3.0" ry="2.3" transform="rotate(114 198.8 171.7)"/><ellipse cx="185.7" cy="175.6" rx="3.5" ry="2.7" transform="rotate(129 185.7 175.6)"/><ellipse cx="182.5" cy="63.8" rx="3.7" ry="2.6" transform="rotate(42 182.5 63.8)"/><ellipse cx="203.2" cy="20.3" rx="3.3" ry="2.0" transform="rotate(147 203.2 20.3)"/><ellipse cx="205.7" cy="142.0" rx="2.7" ry="2.5" transform="rotate(103 205.7 142.0)"/><ellipse cx="193.9" cy="97.6" rx="2.6" ry="2.1" transform="rotate(58 193.9 97.6)"/><ellipse cx="197.1" cy="123.4" rx="3.4" ry="2.2" transform="rotate(158 197.1 123.4)"/><ellipse cx="181.2" cy="170.6" rx="4.2" ry="2.3" transform="rotate(171 181.2 170.6)"/><ellipse cx="197.1" cy="108.7" rx="4.0" ry="2.4" transform="rotate(70 197.1 108.7)"/><ellipse cx="177.7" cy="12.1" rx="3.0" ry="1.9" transform="rotate(64 177.7 12.1)"/><ellipse cx="179.2" cy="109.8" rx="4.1" ry="1.8" transform="rotate(170 179.2 109.8)"/><ellipse cx="170.6" cy="2.7" rx="3.0" ry="2.5" transform="rotate(95 170.6 2.7)"/><ellipse cx="193.8" cy="159.9" rx="4.0" ry="1.9" transform="rotate(61 193.8 159.9)"/><ellipse cx="147.7" cy="-8.0" rx="4.0" ry="1.9" transform="rotate(9 147.7 -8.0)"/><ellipse cx="203.8" cy="70.7" rx="3.1" ry="2.0" transform="rotate(58 203.8 70.7)"/><ellipse cx="181.5" cy="127.3" rx="3.4" ry="2.1" transform="rotate(51 181.5 127.3)"/><ellipse cx="180.0" cy="19.8" rx="4.0" ry="2.0" transform="rotate(74 180.0 19.8)"/><ellipse cx="196.8" cy="152.9" rx="2.7" ry="2.4" transform="rotate(16 196.8 152.9)"/><ellipse cx="153.3" cy="-8.6" rx="3.4" ry="2.0" transform="rotate(92 153.3 -8.6)"/><ellipse cx="202.4" cy="34.8" rx="3.6" ry="2.3" transform="rotate(5 202.4 34.8)"/><ellipse cx="188.9" cy="148.9" rx="2.8" ry="2.4" transform="rotate(48 188.9 148.9)"/><ellipse cx="171.9" cy="175.2" rx="2.5" ry="2.6" transform="rotate(7 171.9 175.2)"/><ellipse cx="195.6" cy="117.9" rx="2.9" ry="2.5" transform="rotate(160 195.6 117.9)"/><ellipse cx="184.5" cy="1.3" rx="3.2" ry="2.6" transform="rotate(41 184.5 1.3)"/><ellipse cx="186.1" cy="23.9" rx="2.8" ry="2.6" transform="rotate(169 186.1 23.9)"/><ellipse cx="199.7" cy="51.3" rx="4.0" ry="2.0" transform="rotate(137 199.7 51.3)"/><ellipse cx="172.5" cy="18.2" rx="3.2" ry="1.8" transform="rotate(61 172.5 18.2)"/><ellipse cx="213.6" cy="37.6" rx="2.6" ry="2.2" transform="rotate(170 213.6 37.6)"/><ellipse cx="198.2" cy="-8.4" rx="3.9" ry="2.2" transform="rotate(83 198.2 -8.4)"/><ellipse cx="162.9" cy="-6.7" rx="4.0" ry="2.6" transform="rotate(15 162.9 -6.7)"/><ellipse cx="198.2" cy="86.8" rx="3.1" ry="2.6" transform="rotate(83 198.2 86.8)"/><ellipse cx="183.6" cy="163.6" rx="3.9" ry="2.3" transform="rotate(38 183.6 163.6)"/><ellipse cx="197.8" cy="148.4" rx="3.3" ry="2.2" transform="rotate(90 197.8 148.4)"/><ellipse cx="205.1" cy="55.1" rx="4.0" ry="2.5" transform="rotate(174 205.1 55.1)"/><ellipse cx="185.3" cy="113.8" rx="3.3" ry="2.6" transform="rotate(84 185.3 113.8)"/><ellipse cx="194.6" cy="65.8" rx="2.6" ry="2.4" transform="rotate(21 194.6 65.8)"/><ellipse cx="181.9" cy="150.0" rx="3.1" ry="2.1" transform="rotate(137 181.9 150.0)"/><ellipse cx="193.1" cy="38.0" rx="2.9" ry="1.9" transform="rotate(94 193.1 38.0)"/><ellipse cx="181.0" cy="-5.3" rx="3.4" ry="2.0" transform="rotate(36 181.0 -5.3)"/><ellipse cx="166.5" cy="17.0" rx="2.6" ry="2.1" transform="rotate(13 166.5 17.0)"/><ellipse cx="191.5" cy="90.6" rx="2.6" ry="2.3" transform="rotate(172 191.5 90.6)"/><ellipse cx="191.7" cy="155.2" rx="4.1" ry="2.7" transform="rotate(142 191.7 155.2)"/><ellipse cx="183.5" cy="121.7" rx="2.9" ry="2.4" transform="rotate(140 183.5 121.7)"/><ellipse cx="178.2" cy="45.7" rx="2.8" ry="1.9" transform="rotate(42 178.2 45.7)"/><ellipse cx="191.3" cy="48.9" rx="3.5" ry="2.4" transform="rotate(0 191.3 48.9)"/><ellipse cx="183.6" cy="133.9" rx="4.1" ry="2.0" transform="rotate(144 183.6 133.9)"/><ellipse cx="204.2" cy="30.3" rx="2.6" ry="2.7" transform="rotate(39 204.2 30.3)"/><ellipse cx="189.3" cy="18.0" rx="3.5" ry="2.3" transform="rotate(33 189.3 18.0)"/><ellipse cx="177.7" cy="40.2" rx="3.8" ry="2.4" transform="rotate(179 177.7 40.2)"/><ellipse cx="198.9" cy="160.0" rx="3.3" ry="2.0" transform="rotate(148 198.9 160.0)"/><ellipse cx="187.4" cy="39.4" rx="4.2" ry="2.5" transform="rotate(171 187.4 39.4)"/><ellipse cx="172.5" cy="166.9" rx="3.2" ry="2.7" transform="rotate(96 172.5 166.9)"/><ellipse cx="205.7" cy="131.2" rx="2.5" ry="2.0" transform="rotate(140 205.7 131.2)"/><ellipse cx="203.0" cy="15.6" rx="4.0" ry="1.9" transform="rotate(49 203.0 15.6)"/><ellipse cx="203.1" cy="157.3" rx="2.9" ry="2.0" transform="rotate(175 203.1 157.3)"/><ellipse cx="151.1" cy="-3.9" rx="3.8" ry="2.6" transform="rotate(5 151.1 -3.9)"/><ellipse cx="190.6" cy="3.4" rx="3.0" ry="2.6" transform="rotate(11 190.6 3.4)"/><ellipse cx="192.3" cy="85.7" rx="4.1" ry="2.3" transform="rotate(123 192.3 85.7)"/><ellipse cx="181.4" cy="77.2" rx="3.3" ry="2.1" transform="rotate(0 181.4 77.2)"/><ellipse cx="166.2" cy="-10.2" rx="3.7" ry="2.7" transform="rotate(124 166.2 -10.2)"/><ellipse cx="179.5" cy="118.4" rx="2.8" ry="2.5" transform="rotate(19 179.5 118.4)"/><ellipse cx="178.8" cy="-1.0" rx="3.0" ry="2.1" transform="rotate(147 178.8 -1.0)"/><ellipse cx="93.0" cy="39.1" rx="2.9" ry="2.3" transform="rotate(138 93.0 39.1)"/><ellipse cx="109.3" cy="54.0" rx="2.8" ry="2.4" transform="rotate(73 109.3 54.0)"/><ellipse cx="94.0" cy="50.3" rx="2.7" ry="2.2" transform="rotate(92 94.0 50.3)"/><ellipse cx="100.3" cy="43.8" rx="2.9" ry="1.9" transform="rotate(28 100.3 43.8)"/><ellipse cx="101.1" cy="34.5" rx="2.7" ry="2.7" transform="rotate(54 101.1 34.5)"/><ellipse cx="113.8" cy="32.5" rx="2.9" ry="2.4" transform="rotate(69 113.8 32.5)"/><ellipse cx="119.6" cy="34.7" rx="2.6" ry="1.9" transform="rotate(7 119.6 34.7)"/><ellipse cx="127.9" cy="29.8" rx="3.8" ry="2.6" transform="rotate(47 127.9 29.8)"/><ellipse cx="125.4" cy="22.6" rx="3.3" ry="2.0" transform="rotate(32 125.4 22.6)"/><ellipse cx="116.3" cy="76.3" rx="3.4" ry="2.4" transform="rotate(23 116.3 76.3)"/><ellipse cx="120.9" cy="58.5" rx="3.5" ry="2.3" transform="rotate(174 120.9 58.5)"/><ellipse cx="124.1" cy="73.8" rx="3.0" ry="2.1" transform="rotate(157 124.1 73.8)"/><ellipse cx="110.8" cy="68.7" rx="2.8" ry="2.1" transform="rotate(127 110.8 68.7)"/><ellipse cx="151.4" cy="93.0" rx="3.7" ry="2.6" transform="rotate(159 151.4 93.0)"/><ellipse cx="140.2" cy="95.0" rx="3.4" ry="2.3" transform="rotate(153 140.2 95.0)"/><ellipse cx="144.6" cy="80.5" rx="3.6" ry="1.9" transform="rotate(154 144.6 80.5)"/><ellipse cx="153.6" cy="87.2" rx="3.0" ry="2.5" transform="rotate(156 153.6 87.2)"/><ellipse cx="160.1" cy="90.4" rx="3.5" ry="2.1" transform="rotate(146 160.1 90.4)"/><ellipse cx="142.3" cy="89.5" rx="3.2" ry="2.6" transform="rotate(141 142.3 89.5)"/><ellipse cx="168.8" cy="84.6" rx="3.3" ry="2.1" transform="rotate(43 168.8 84.6)"/><ellipse cx="108.6" cy="100.0" rx="3.5" ry="2.5" transform="rotate(65 108.6 100.0)"/><ellipse cx="99.1" cy="108.1" rx="3.9" ry="2.7" transform="rotate(84 99.1 108.1)"/><ellipse cx="92.0" cy="105.1" rx="3.2" ry="2.4" transform="rotate(126 92.0 105.1)"/><ellipse cx="99.2" cy="101.5" rx="4.1" ry="2.5" transform="rotate(15 99.2 101.5)"/><ellipse cx="134.6" cy="116.9" rx="3.5" ry="1.8" transform="rotate(104 134.6 116.9)"/><ellipse cx="158.3" cy="118.5" rx="3.3" ry="2.0" transform="rotate(51 158.3 118.5)"/><ellipse cx="159.4" cy="107.8" rx="3.9" ry="2.1" transform="rotate(154 159.4 107.8)"/><ellipse cx="132.6" cy="104.3" rx="3.8" ry="1.9" transform="rotate(47 132.6 104.3)"/><ellipse cx="125.7" cy="112.5" rx="3.9" ry="2.6" transform="rotate(123 125.7 112.5)"/><ellipse cx="140.3" cy="106.2" rx="2.6" ry="2.6" transform="rotate(38 140.3 106.2)"/><ellipse cx="147.8" cy="113.4" rx="4.0" ry="2.5" transform="rotate(86 147.8 113.4)"/><ellipse cx="148.8" cy="105.7" rx="3.9" ry="2.5" transform="rotate(179 148.8 105.7)"/><ellipse cx="55.5" cy="85.0" rx="3.5" ry="2.6" transform="rotate(152 55.5 85.0)"/><ellipse cx="72.7" cy="89.7" rx="3.4" ry="2.3" transform="rotate(171 72.7 89.7)"/><ellipse cx="48.0" cy="85.0" rx="2.9" ry="2.1" transform="rotate(37 48.0 85.0)"/><ellipse cx="59.2" cy="90.6" rx="2.9" ry="2.5" transform="rotate(69 59.2 90.6)"/><ellipse cx="66.0" cy="86.5" rx="3.3" ry="2.0" transform="rotate(175 66.0 86.5)"/><ellipse cx="79.7" cy="91.1" rx="2.6" ry="2.2" transform="rotate(129 79.7 91.1)"/><ellipse cx="53.2" cy="135.7" rx="3.7" ry="1.8" transform="rotate(53 53.2 135.7)"/><ellipse cx="68.3" cy="133.1" rx="3.1" ry="2.3" transform="rotate(18 68.3 133.1)"/><ellipse cx="32.3" cy="140.2" rx="4.0" ry="2.3" transform="rotate(80 32.3 140.2)"/><ellipse cx="61.3" cy="142.4" rx="3.1" ry="2.5" transform="rotate(82 61.3 142.4)"/><ellipse cx="51.0" cy="128.7" rx="2.7" ry="2.5" transform="rotate(29 51.0 128.7)"/><ellipse cx="139.4" cy="127.7" rx="2.6" ry="2.4" transform="rotate(102 139.4 127.7)"/><ellipse cx="101.8" cy="138.4" rx="3.9" ry="2.3" transform="rotate(106 101.8 138.4)"/><ellipse cx="112.6" cy="135.0" rx="3.2" ry="2.6" transform="rotate(4 112.6 135.0)"/><ellipse cx="102.2" cy="162.6" rx="3.0" ry="2.4" transform="rotate(142 102.2 162.6)"/><ellipse cx="113.3" cy="153.8" rx="3.4" ry="2.3" transform="rotate(34 113.3 153.8)"/><ellipse cx="116.5" cy="117.8" rx="3.8" ry="2.4" transform="rotate(155 116.5 117.8)"/><ellipse cx="160.9" cy="124.5" rx="3.0" ry="1.8" transform="rotate(87 160.9 124.5)"/><ellipse cx="159.8" cy="140.4" rx="3.7" ry="2.3" transform="rotate(18 159.8 140.4)"/><ellipse cx="94.5" cy="155.6" rx="3.2" ry="2.2" transform="rotate(24 94.5 155.6)"/><ellipse cx="163.7" cy="164.2" rx="3.3" ry="2.1" transform="rotate(148 163.7 164.2)"/><ellipse cx="126.5" cy="160.4" rx="4.2" ry="2.6" transform="rotate(19 126.5 160.4)"/><ellipse cx="117.1" cy="160.2" rx="3.8" ry="1.8" transform="rotate(56 117.1 160.2)"/><ellipse cx="172.3" cy="123.9" rx="4.0" ry="2.1" transform="rotate(1 172.3 123.9)"/><ellipse cx="156.4" cy="129.1" rx="3.3" ry="2.3" transform="rotate(177 156.4 129.1)"/><ellipse cx="161.6" cy="133.3" rx="3.7" ry="1.9" transform="rotate(70 161.6 133.3)"/><ellipse cx="145.4" cy="155.0" rx="3.8" ry="2.0" transform="rotate(25 145.4 155.0)"/><ellipse cx="131.3" cy="150.6" rx="4.0" ry="2.1" transform="rotate(83 131.3 150.6)"/><ellipse cx="125.1" cy="123.3" rx="2.5" ry="2.4" transform="rotate(147 125.1 123.3)"/><ellipse cx="168.7" cy="157.7" rx="2.5" ry="2.3" transform="rotate(96 168.7 157.7)"/><ellipse cx="132.0" cy="163.5" rx="3.4" ry="1.8" transform="rotate(34 132.0 163.5)"/><ellipse cx="104.7" cy="144.7" rx="3.7" ry="1.8" transform="rotate(24 104.7 144.7)"/><ellipse cx="157.4" cy="161.4" rx="3.6" ry="1.8" transform="rotate(83 157.4 161.4)"/><ellipse cx="143.5" cy="142.4" rx="3.6" ry="2.3" transform="rotate(139 143.5 142.4)"/><ellipse cx="123.1" cy="148.4" rx="2.8" ry="2.2" transform="rotate(64 123.1 148.4)"/><ellipse cx="149.3" cy="163.3" rx="3.4" ry="1.9" transform="rotate(110 149.3 163.3)"/><ellipse cx="114.7" cy="143.6" rx="3.7" ry="2.2" transform="rotate(33 114.7 143.6)"/><ellipse cx="147.1" cy="122.8" rx="2.8" ry="2.3" transform="rotate(18 147.1 122.8)"/><ellipse cx="120.7" cy="129.6" rx="4.0" ry="2.6" transform="rotate(144 120.7 129.6)"/><ellipse cx="123.1" cy="138.1" rx="3.2" ry="2.0" transform="rotate(76 123.1 138.1)"/><ellipse cx="158.7" cy="150.6" rx="3.3" ry="1.9" transform="rotate(175 158.7 150.6)"/><ellipse cx="107.2" cy="125.0" rx="3.8" ry="2.4" transform="rotate(9 107.2 125.0)"/><ellipse cx="148.5" cy="138.4" rx="4.0" ry="2.7" transform="rotate(71 148.5 138.4)"/><ellipse cx="168.5" cy="145.3" rx="3.4" ry="2.1" transform="rotate(58 168.5 145.3)"/><ellipse cx="135.8" cy="171.3" rx="3.8" ry="1.9" transform="rotate(93 135.8 171.3)"/><ellipse cx="13.0" cy="101.9" rx="4.1" ry="2.3" transform="rotate(131 13.0 101.9)"/><ellipse cx="78.9" cy="128.7" rx="3.1" ry="2.1" transform="rotate(73 78.9 128.7)"/><ellipse cx="93.8" cy="131.9" rx="3.1" ry="2.4" transform="rotate(75 93.8 131.9)"/><ellipse cx="153.7" cy="52.9" rx="2.7" ry="2.3" transform="rotate(43 153.7 52.9)"/></g>
<rect x="189.6" y="160.6" width="56.4" height="4.7" fill="#fff"/>
<text x="220.8" y="153.5" font-family="Liberation Sans, sans-serif" font-size="13" fill="#fff" text-anchor="middle">50 µm</text>
</svg>
<svg x="418.7" y="200.6" width="479.3" height="170.2" viewBox="0 0 479.3 170.2">
<g filter="url(#lymB)"><rect x="-20" y="-20" width="520" height="211" fill="#4a4a4a"/><path d="M-8.7,-10.6 61.3,-10.6 59.3,34.4 21.3,49.4 -8.7,39.4Z" fill="#363636"/><path d="M66.3,89.4 131.3,84.4 141.3,129.4 81.3,139.4Z" fill="#363636"/><path d="M141.3,-10.6 351.3,-10.6 346.3,34.4 321.3,61.4 241.3,61.4 181.3,44.4Z" fill="#303030"/><path d="M141.3,94.4 221.3,89.4 241.3,119.4 181.3,129.4Z" fill="#383838"/><path d="M-8.7,129.4 101.3,149.4 201.3,179.4 -8.7,179.4Z" fill="#3e3e3e"/><path d="M11.3,39.4 81.3,24.4 141.3,49.4 221.3,64.4 281.3,74.4 271.3,99.4 181.3,89.4 121.3,99.4 61.3,89.4 21.3,79.4Z" fill="#606060"/><path d="M141.3,129.4 241.3,129.4 281.3,179.4 141.3,179.4Z" fill="#5e5e5e"/><path d="M393.3,-20.6 386.3,29.4 396.3,59.4 403.3,99.4 396.3,134.4 386.3,189.4 501.3,189.4 501.3,-20.6Z" fill="#080808"/><path d="M403.3,4.4 429.3,7.4 427.3,27.4 407.3,29.4Z" fill="#737373"/><path d="M341.3,49.4 371.3,54.4 361.3,99.4 341.3,139.4 311.3,179.4 251.3,179.4 281.3,139.4 321.3,99.4Z" fill="#9e9e9e"/><path d="M359.3,-20.6 381.3,-20.6 379.3,27.4 387.3,51.4 397.3,79.4 393.3,109.4 385.3,135.4 379.3,189.4 345.3,189.4 357.3,134.4 361.3,106.4 363.3,79.4 353.3,51.4 347.3,27.4Z" fill="#ebebeb"/></g>
<rect x="128" y="59.8" width="291.6" height="56.8" fill="none" stroke="#e6e6ea" stroke-width="1.2"/>
<rect x="424.4" y="155.1" width="41.6" height="6" fill="#fff"/>
<text x="446.3" y="146.2" font-family="Liberation Sans, sans-serif" font-size="13.3" fill="#fff" text-anchor="middle">100 µm</text>
</svg>
<svg x="79" y="380" width="251.4" height="177.7" viewBox="0 0 251.4 177.7">
<g filter="url(#xrfL)"><rect x="-15" y="-15" width="282" height="208" fill="#000"/><g style="mix-blend-mode:screen"><path d="M111.6,-12.7 175.1,-12.7 204.0,24.9 209.8,53.8 198.2,91.3 192.4,126.0 189.6,186.7 169.3,186.7 175.1,126.0 169.3,82.7 146.2,59.6 120.2,30.7Z" fill="#000060"/><path d="M91.3,76.9 120.2,76.9 120.2,97.1 91.3,97.1Z" fill="#000058"/><path d="M48.0,123.1 62.4,123.1 62.4,146.2 48.0,146.2Z" fill="#000058"/><path d="M117.3,-6.9 169.3,4.7 195.3,23.4 206.9,45.1 199.7,71.1 191.0,91.3 187.2,117.3 182.3,146.2 183.8,180.9" fill="none" stroke="#0000b0" stroke-width="9.5" stroke-linejoin="round"/><path d="M146.2,22.0 172.2,33.6 183.8,53.8 180.9,65.3" fill="none" stroke="#000078" stroke-width="8" stroke-linejoin="round"/><path d="M9.0,6.1 27.8,1.2 53.8,9.0 85.6,11.9 95.7,30.7 89.9,53.8 110.1,71.1 104.3,92.8 76.9,98.6 56.7,87.0 39.3,65.3 22.0,42.2 9.0,24.9Z" fill="#880000"/><path d="M24.9,19.1 53.8,24.9 82.7,45.1 97.1,71.1 82.7,88.4 62.4,76.9 45.1,53.8 27.8,33.6Z" fill="#a40000"/><path d="M94.2,24.9 126.0,27.8 160.7,48.0 163.6,82.7 140.4,95.7 111.6,89.9 97.1,68.2Z" fill="#620000"/><path d="M35.0,123.1 53.8,120.2 74.0,146.2 74.0,172.2 53.8,169.3 39.3,146.2Z" fill="#5c0000"/><path d="M105.8,105.8 169.3,100.0 172.2,131.8 126.0,140.4 111.6,128.9Z" fill="#400000"/><path d="M-1.1,85.6 9.0,85.6 9.0,114.4 -1.1,114.4Z" fill="#4c0000"/><path d="M91.3,157.8 134.7,152.0 134.7,175.1 91.3,175.1Z" fill="#3a0000"/></g></g>
<g filter="url(#b15)">
<path d="M60.1,42.2 65.3,32.1 69.7,39.3 82.7,45.7 84.1,51.5 71.1,53.2 61.9,50.3Z" fill="#38f028"/>
<path d="M19.1,1.8 27.8,0.6 28.4,7.0 21.4,8.1Z" fill="#c8e020" opacity=".9"/>
<path d="M72.3,89.0 78.6,87.9 79.2,96.0 73.4,96.0Z" fill="#e8d020" opacity=".9"/>
<ellipse cx="74" cy="65" rx="6.5" ry="7.5" fill="#8a6a20" opacity=".75"/>
</g>
<rect x="186.7" y="167" width="59.2" height="4.4" fill="#a4a4ae"/>
<text x="218.6" y="159.3" font-family="Liberation Sans, sans-serif" font-size="13" fill="#fff" text-anchor="middle">50 µm</text>
</svg>
<svg x="419.5" y="379.8" width="388.5" height="72.0" viewBox="0 0 388.5 72.0">
<g filter="url(#xrfB)"><use href="#pmap"/></g>
<rect width="389" height="73" fill="#000" opacity=".3"/><path d="M-10,-10 H70 L55,85 H-10Z" fill="#000" opacity=".75" filter="url(#b6)"/><path d="M296,10 h22 v24 h-22Z" fill="#000" opacity=".7" filter="url(#b3)"/><path d="M346,-10 L380,-10 L356,85 L332,85 Z" fill="#000" opacity=".85" filter="url(#b15)"/><g style="mix-blend-mode:screen" filter="url(#gband)"><rect x="-20" y="-20" width="430" height="112" fill="#000"/><path d="M340,-10 L374,-10 L350,85 L326,85 Z" fill="#c8c8c8"/><path d="M372,-10 L388,-10 L382,40 L366,52 L360,30 Z" fill="#585858"/><path d="M240,8 h40 v26 h-40Z" fill="#6a6a6a"/><path d="M70,20 h70 v50 h-70Z" fill="#363636"/><path d="M180,40 h60 v30 h-60Z" fill="#2c2c2c"/></g><rect x="348.5" y="61.2" width="29.8" height="4.5" fill="#fff"/><text x="362.2" y="52.5" font-family="Liberation Sans, sans-serif" font-size="12.6" fill="#fff" text-anchor="middle">50 µm</text>
</svg>
<svg x="419.5" y="455.0" width="388.5" height="71.8" viewBox="0 0 388.5 71.8">
<g filter="url(#xrfB)"><use href="#pmap"/></g>
<g style="mix-blend-mode:screen" filter="url(#toRed)"><g filter="url(#dots)"><rect x="-20" y="-20" width="430" height="112" fill="#000"/><path d="M40,-5 L150,-5 L150,75 L50,75 Z" fill="#3e3e3e"/><path d="M60,0 L140,0 L135,60 L75,50 Z" fill="#545454"/><path d="M232,0 h8 v40 h-8Z" fill="#464646"/><path d="M326,40 h6 v22 h-6Z" fill="#6e6e6e"/></g><g fill="#fff" filter="url(#rough)"><ellipse cx="103.0" cy="56.0" rx="9.0" ry="10.0"/><ellipse cx="96.0" cy="44.0" rx="6.0" ry="5.0"/><ellipse cx="131.0" cy="33.0" rx="7.0" ry="7.0"/><ellipse cx="78.0" cy="8.0" rx="8.0" ry="5.0"/><ellipse cx="84.0" cy="28.0" rx="5.0" ry="4.0"/><ellipse cx="112.0" cy="64.0" rx="7.0" ry="5.0"/></g></g>
</svg>
<svg x="419.5" y="529.8" width="388.5" height="72.0" viewBox="0 0 388.5 72.0">
<g filter="url(#xrfB)"><use href="#pmap"/></g>
<g style="mix-blend-mode:screen" filter="url(#toGreen)"><g filter="url(#dots)"><rect x="-20" y="-20" width="430" height="112" fill="#000"/><path d="M40,-5 L150,-5 L150,75 L50,75 Z" fill="#4d4d4d"/><path d="M60,0 L140,0 L135,60 L75,50 Z" fill="#696969"/><path d="M232,0 h8 v40 h-8Z" fill="#575757"/><path d="M326,40 h6 v22 h-6Z" fill="#898989"/></g><g fill="#fff" filter="url(#rough)"><ellipse cx="103.0" cy="56.0" rx="9.0" ry="10.0"/><ellipse cx="96.0" cy="44.0" rx="6.0" ry="5.0"/><ellipse cx="131.0" cy="33.0" rx="7.0" ry="7.0"/><ellipse cx="78.0" cy="8.0" rx="8.0" ry="5.0"/><ellipse cx="84.0" cy="28.0" rx="5.0" ry="4.0"/><ellipse cx="112.0" cy="64.0" rx="7.0" ry="5.0"/></g></g><path d="M356,-5 H395 V80 H338Z" fill="#002a10" opacity=".5" filter="url(#b3)"/>
</svg>
<rect x="339.3" y="24.0" width="70.7" height="167.6" fill="#828282"/>
<rect x="339.3" y="200.6" width="70.7" height="170.4" fill="#828282"/>
<rect x="339.3" y="380.0" width="70.7" height="221.0" fill="#828282"/>
<rect x="339.3" y="610.0" width="70.7" height="240.0" fill="#828282"/>
<rect x="1.5" y="858.9" width="408.5" height="35.5" fill="#828282"/>
<text x="373.7" y="45.8" font-family="Liberation Sans, sans-serif" font-size="21" font-weight="bold" fill="#fff" text-anchor="middle">a</text>
<text x="373.7" y="223.3" font-family="Liberation Sans, sans-serif" font-size="21" font-weight="bold" fill="#fff" text-anchor="middle">b</text>
<text x="373.7" y="402.3" font-family="Liberation Sans, sans-serif" font-size="21" font-weight="bold" fill="#fff" text-anchor="middle">c</text>
<text x="373.7" y="633.3" font-family="Liberation Sans, sans-serif" font-size="21" font-weight="bold" fill="#fff" text-anchor="middle">d</text>
<text x="375.2" y="178.7" font-family="Liberation Sans, sans-serif" font-size="12.4" fill="#fff" text-anchor="middle">VLM</text>
<text x="375.2" y="362.1" font-family="Liberation Sans, sans-serif" font-size="12.4" fill="#fff" text-anchor="middle">DAPI</text>
<text x="375.2" y="589.8" font-family="Liberation Sans, sans-serif" font-size="12.4" fill="#fff" text-anchor="middle">µ-XRF</text>
<text x="375.2" y="807.8" font-family="Liberation Sans, sans-serif" font-size="12.4" fill="#fff" text-anchor="middle">SUM</text>
<text x="375.2" y="821.8" font-family="Liberation Sans, sans-serif" font-size="12.4" fill="#fff" text-anchor="middle">SPECTRA</text>
<text x="375.2" y="835.7" font-family="Liberation Sans, sans-serif" font-size="12.4" fill="#fff" text-anchor="middle">XRF</text>
<text x="15" y="882.3" font-family="Liberation Sans, sans-serif" font-size="19.5" font-weight="bold" fill="#fff">e</text>
<text x="40.7" y="881.9" font-family="Liberation Sans, sans-serif" font-size="13.1" fill="#fff">XANES SPECTRA - SKIN AND LYMPH NODE</text>
<text x="286.4" y="16" font-family="Liberation Sans, sans-serif" font-size="19.5" fill="#111">SKIN</text>
<text x="416.4" y="15.9" font-family="Liberation Sans, sans-serif" font-size="19.4" fill="#111">LYMPH NODE</text>
<text x="87.2" y="575.2" font-family="Liberation Sans, sans-serif" font-size="13.7" fill="#111">normalized fluorescence</text>
<text x="87.2" y="590.2" font-family="Liberation Sans, sans-serif" font-size="13.7" fill="#111">intensity of:</text>
<text y="588.4" font-family="Liberation Sans, sans-serif" font-size="18.9"><tspan x="246.4" fill="#2ba02b">Br</tspan><tspan x="275.9" fill="#dc1818">Ti</tspan><tspan x="304.7" fill="#1c1cd0">P</tspan></text>
<text y="448.3" font-family="Liberation Sans, sans-serif" font-size="19"><tspan x="817" fill="#2ba02b">Cl</tspan><tspan x="843.8" fill="#1c1cd0">P</tspan></text>
<text y="517.4" font-family="Liberation Sans, sans-serif" font-size="19"><tspan x="821.8" fill="#dc1818">Ti</tspan><tspan x="843.8" fill="#1c1cd0">P</tspan></text>
<text y="595.3" font-family="Liberation Sans, sans-serif" font-size="19"><tspan x="816.5" fill="#2ba02b">Br</tspan><tspan x="843.8" fill="#1c1cd0">P</tspan></text>
<rect x="46" y="609.7" width="284.4" height="190.3" fill="#fff" stroke="#333" stroke-width="1"/>
<path d="M52.5 800v4.0M65.4 800v4.0M78.2 800v4.0M91.1 800v4.0M104.0 800v6.5M116.9 800v4.0M129.8 800v4.0M142.6 800v4.0M155.5 800v4.0M168.4 800v6.5M181.3 800v4.0M194.2 800v4.0M207.0 800v4.0M219.9 800v4.0M232.8 800v6.5M245.7 800v4.0M258.6 800v4.0M271.4 800v4.0M284.3 800v4.0M297.2 800v6.5M310.1 800v4.0M323.0 800v4.0M46 794.9h-3.5M46 790.7h-3.5M46 787.1h-3.5M46 783.9h-3.5M46 781.1h-6.5M46 762.4h-3.5M46 751.5h-3.5M46 743.8h-3.5M46 737.8h-3.5M46 732.9h-3.5M46 728.7h-3.5M46 725.1h-3.5M46 721.9h-3.5M46 719.1h-6.5M46 700.4h-3.5M46 689.5h-3.5M46 681.8h-3.5M46 675.8h-3.5M46 670.9h-3.5M46 666.7h-3.5M46 663.1h-3.5M46 659.9h-3.5M46 657.1h-6.5M46 638.4h-3.5M46 627.5h-3.5M46 619.8h-3.5M46 613.8h-3.5" stroke="#333" stroke-width="1" fill="none"/>
<path d="M46.0 791.0L46.4 793.2L46.9 792.2L47.6 794.1L48.3 794.2L49.1 789.8L50.0 788.4L50.6 793.0L51.2 787.5L51.8 785.5L52.5 788.8L53.3 783.0L54.0 783.5L54.7 779.0L55.4 778.5L56.1 773.7L56.7 776.1L57.5 777.3L58.2 775.1L58.9 777.3L59.7 777.8L60.3 775.2L61.0 779.6L61.6 779.2L62.2 777.6L63.0 775.3L63.6 778.3L64.2 774.3L64.8 772.7L65.6 769.5L66.2 764.8L66.8 760.8L67.5 752.1L68.2 748.1L68.9 740.5L69.7 738.2L70.4 734.3L71.1 728.7L71.7 729.4L72.4 731.9L73.0 738.9L73.6 740.2L74.3 745.7L74.9 748.6L75.5 754.1L76.1 757.3L76.7 760.0L77.4 764.1L78.0 766.5L78.5 770.3L79.1 770.9L79.7 773.6L80.4 774.2L81.1 775.6L81.7 774.0L82.3 771.1L82.9 774.2L83.6 774.1L84.3 772.9L85.0 770.3L85.7 770.2L86.4 766.8L87.1 769.5L87.8 767.9L88.5 766.4L89.1 765.6L89.8 770.2L90.5 771.6L91.2 767.6L91.8 771.9L92.5 770.4L93.1 769.3L93.8 770.1L94.4 772.2L95.2 771.9L95.9 766.3L96.6 767.8L97.3 763.0L98.0 764.5L98.7 760.3L99.3 760.8L100.0 758.9L100.7 753.4L101.3 752.2L102.0 744.5L102.6 739.0L103.2 737.8L103.9 731.6L104.5 730.2L105.1 730.3L105.7 732.1L106.3 731.9L106.9 734.6L107.5 742.8L108.1 744.0L108.7 751.2L109.4 754.0L110.0 753.5L110.7 755.2L111.4 756.4L112.1 757.6L112.8 757.6L113.6 757.2L114.3 757.0L115.0 757.7L115.6 754.1L116.3 751.6L117.0 750.2L117.6 744.3L118.2 740.8L118.8 740.3L119.4 733.8L120.0 730.0L120.7 721.7L121.3 717.3L122.0 711.4L122.7 702.6L123.3 701.6L124.0 700.4L124.6 699.1L125.3 706.1L125.9 710.9L126.6 718.5L127.2 723.2L127.8 730.9L128.4 735.3L129.1 735.7L129.7 738.9L130.2 744.3L130.9 747.5L131.6 745.1L132.2 746.9L132.8 748.1L133.4 747.0L134.1 747.4L134.8 747.0L135.4 747.0L136.1 747.7L136.7 745.4L137.4 744.4L138.0 744.6L138.7 738.6L139.3 739.0L139.9 737.4L140.5 732.9L141.1 730.5L141.8 730.6L142.4 724.6L143.0 721.5L143.7 720.9L144.4 721.8L145.0 719.6L145.6 722.6L146.2 725.2L146.9 730.7L147.6 731.5L148.3 736.3L148.9 734.7L149.5 737.0L150.2 739.8L150.8 742.0L151.4 740.5L152.0 740.1L152.7 740.3L153.3 743.2L153.9 742.1L154.5 745.8L155.0 746.5L155.6 743.5L156.3 744.6L157.0 748.1L157.8 748.2L158.3 749.9L158.9 748.4L159.4 748.4L160.0 750.4L160.6 754.3L161.2 752.8L161.9 754.4L162.6 755.9L163.3 756.9L164.0 757.6L164.8 760.9L165.6 757.2L166.2 756.5L166.8 761.4L167.4 760.9L168.0 761.3L168.6 758.1L169.3 760.5L170.0 760.0L170.7 755.9L171.4 758.1L172.1 758.1L172.8 756.6L173.5 755.3L174.2 753.6L174.9 753.3L175.7 752.1L176.4 750.7L177.1 752.9L177.8 750.8L178.5 753.0L179.2 748.5L179.9 752.4L180.6 750.7L181.4 751.2L182.2 750.4L182.9 749.8L183.7 747.4L184.4 743.8L185.2 747.0L185.9 743.4L186.6 743.4L187.4 744.7L188.0 743.4L188.7 742.3L189.3 744.5L189.9 742.4L190.5 740.7L191.0 739.9L191.9 742.7L192.7 740.7L193.3 742.4L193.9 740.5L194.4 740.1L194.8 742.2L195.4 744.0L196.0 740.7L196.7 743.8L197.3 744.3L197.9 743.4L198.5 743.3L199.2 738.7L199.9 741.6L200.5 742.4L201.3 737.7L202.0 738.4L202.7 737.8L203.4 738.5L204.1 737.4L204.8 736.9L205.5 737.7L206.2 732.8L206.9 732.1L207.6 731.3L208.3 730.1L209.0 728.5L209.7 731.9L210.4 730.0L211.1 724.7L211.7 725.6L212.4 723.5L213.1 722.5L213.8 721.8L214.4 722.7L215.1 721.8L215.8 720.3L216.5 719.3L217.1 720.0L217.8 719.0L218.4 721.4L219.1 722.4L219.7 720.8L220.4 719.3L221.0 719.7L221.6 720.5L222.2 721.3L222.9 721.5L223.6 718.5L224.3 719.6L224.9 717.4L225.5 715.1L226.2 713.5L226.8 712.9L227.5 712.7L228.2 710.2L228.9 710.7L229.5 708.9L230.2 707.3L230.8 708.4L231.5 708.9L232.2 705.4L232.9 706.9L233.6 706.6L234.2 708.7L234.9 708.6L235.5 704.9L236.1 705.4L236.7 704.6L237.5 702.4L238.2 701.5L238.9 699.4L239.5 699.2L240.1 697.3L240.8 696.1L241.4 694.2L242.0 692.3L242.6 690.8L243.3 688.7L243.9 685.9L244.6 685.1L245.2 682.1L245.8 680.6L246.4 680.1L247.0 677.1L247.7 675.1L248.5 672.9L249.2 672.3L249.9 669.1L250.5 667.5L251.1 668.5L251.8 667.3L252.3 670.0L252.9 671.5L253.4 673.8L254.0 675.9L254.6 677.4L255.3 680.7L255.9 681.8L256.6 684.8L257.3 684.0L257.9 682.3L258.5 677.6L259.1 674.4L259.7 669.9L260.4 663.4L261.1 659.6L261.7 657.0L262.3 654.0L262.9 649.2L263.6 645.6L264.2 642.6L264.9 640.8L265.6 639.3L266.2 638.0L266.8 638.4L267.4 640.0L268.1 642.1L268.7 645.1L269.3 647.7L269.9 652.2L270.5 657.1L271.1 659.8L271.8 665.5L272.4 670.1L273.0 677.5L273.6 684.0L274.3 690.1L274.9 695.4L275.6 700.0L276.2 703.7L276.9 707.2L277.6 708.3L278.4 710.5L279.1 713.8L279.8 715.6L280.5 716.0L281.1 716.6L281.8 717.5L282.4 716.1L283.0 715.5L283.7 714.1L284.3 713.2L284.9 710.7L285.6 708.4L286.2 706.9L286.9 704.6L287.6 700.0L288.3 697.4L289.0 693.3L289.7 690.8L290.4 687.2L291.1 683.9L291.8 681.6L292.5 679.3L293.1 678.5L293.8 676.8L294.5 674.9L295.2 673.9L296.0 672.3L296.7 671.6L297.3 668.9L298.0 669.0L298.7 666.1L299.4 664.5L300.1 662.5L300.8 661.7L301.4 660.3L302.1 658.8L302.7 658.1L303.3 658.6L304.1 659.9L304.8 660.8L305.4 664.1L306.1 667.7L306.7 670.2L307.2 673.5L307.8 677.3L308.5 683.8L309.2 689.9L309.8 697.2L310.5 704.1L311.1 710.5L311.8 718.6L312.4 727.5L313.1 736.6L313.8 746.9L314.4 756.3L315.1 766.0L315.7 775.0L316.4 786.2L316.9 793.6L317.3 799.5" stroke="#4a90b8" stroke-width="1.6" fill="none" stroke-linejoin="round"/>
<path d="M46.0 795.6C48.3 794.3 54.3 790.8 60.0 787.8C65.7 784.8 73.3 781.1 80.0 777.8C86.7 774.5 94.2 770.9 100.0 767.8C105.8 764.6 109.3 761.2 115.0 758.9C120.7 756.6 128.2 754.5 134.0 754.0C139.8 753.5 144.7 754.8 150.0 755.6C155.3 756.4 159.2 760.7 166.0 759.0C172.8 757.3 183.0 751.0 191.0 745.6C199.0 740.2 207.7 732.3 214.0 726.7C220.3 721.1 224.7 715.9 229.0 712.2C233.3 708.5 235.8 706.4 240.0 704.4C244.2 702.4 250.0 700.4 254.4 700.4C258.9 700.4 263.2 702.2 266.7 704.4C270.2 706.5 273.1 710.7 275.6 713.3C278.1 715.9 278.9 718.0 281.8 720.0C284.8 722.0 289.9 723.0 293.3 725.6C296.7 728.2 299.6 731.4 302.2 735.6C304.8 739.9 307.0 744.8 308.9 751.1C310.8 757.4 312.0 765.1 313.3 773.3C314.6 781.4 316.1 795.5 316.7 800.0" stroke="#4db848" stroke-width="1.3" fill="none"/>
<path d="M46.4 796.7L46.9 793.3L47.5 793.0L48.1 796.2L48.7 793.3L49.4 793.2L50.2 793.8L50.9 793.8L51.8 790.2L52.6 791.3L53.5 791.2L54.4 791.0L55.3 789.2L56.2 790.4L57.2 791.7L58.1 788.5L59.1 788.7L60.0 786.2L60.7 786.6L61.3 788.1L62.0 785.1L62.7 788.4L63.5 788.2L64.2 783.9L65.0 787.6L65.7 784.5L66.5 786.0L67.3 785.5L68.0 782.9L68.8 784.4L69.6 783.9" stroke="#3fae8a" stroke-width="1.2" fill="none" stroke-linejoin="round" opacity=".9"/>
<path d="M158.5 760.5L159.2 758.1L160.0 760.7L160.8 761.8L161.6 760.5L162.4 759.9L163.2 757.9L164.1 759.7L165.0 758.9L166.0 760.4L166.7 760.1L167.3 759.4L168.0 757.3L168.7 759.3L169.4 758.9L170.2 756.5L170.9 759.6L171.7 758.1L172.4 755.2L173.2 758.7L174.0 754.5L174.8 755.0L175.6 756.5L176.4 755.5L177.2 754.8L178.1 754.8L178.9 753.4L179.7 752.2L180.5 751.1L181.4 750.1L182.2 752.7L183.0 752.4L183.9 750.9L184.7 751.3L185.5 748.9L186.3 748.0L187.1 748.0L187.9 749.8L188.7 745.3L189.5 747.0L190.2 745.3L191.0 747.3L191.8 744.7L192.7 744.0L193.5 743.8L194.3 743.8L195.2 744.3L196.0 741.7L196.9 743.4L197.7 739.2L198.6 739.3L199.4 737.8L200.2 737.2L201.1 739.7L201.9 738.7L202.7 735.5L203.5 734.8L204.3 735.2L205.2 736.1L205.9 735.7L206.7 734.7L207.5 733.3L208.3 730.5L209.0 731.0L209.8 729.3L210.5 730.3L211.3 729.9L212.0 727.5L212.7 727.1L213.3 729.0L214.0 724.8L215.0 727.7L215.9 727.2L216.9 726.7L217.8 723.1L218.6 723.1L219.5 722.4L220.3 721.8L221.1 722.6L221.9 720.4L222.6 717.8L223.4 719.7L224.1 717.2L224.8 717.0L225.5 716.9L226.2 712.7L226.9 715.8L227.6 714.6L228.3 713.2L229.0 712.7L229.9 711.6L230.8 709.6L231.6 710.6L232.3 707.6L233.1 709.2L233.8 709.3L234.5 707.8L235.3 707.8L236.0 709.2" stroke="#3fae8a" stroke-width="1.2" fill="none" stroke-linejoin="round" opacity=".9"/>
<path d="M46.0 792.0C46.7 791.8 48.2 793.9 50.0 791.0C51.8 788.1 54.7 776.6 56.7 774.4C58.7 772.2 60.7 779.1 62.2 777.8C63.7 776.5 64.1 774.7 65.6 766.7C67.1 758.7 69.2 731.1 71.1 730.0C72.9 728.9 75.0 753.0 76.7 760.0C78.4 767.0 79.2 771.1 81.1 772.2C82.9 773.3 85.6 767.1 87.8 766.7C90.0 766.3 92.4 771.9 94.4 770.0C96.4 768.1 98.2 762.3 100.0 755.6C101.8 748.9 103.4 730.4 105.1 730.0C106.8 729.6 108.2 749.4 110.0 753.3C111.8 757.2 113.9 757.4 115.6 753.3C117.3 749.2 118.6 738.0 120.0 728.9C121.4 719.8 122.6 698.2 124.0 698.9C125.4 699.6 127.1 725.5 128.4 733.3C129.7 741.1 130.2 743.5 131.6 745.6C133.0 747.7 135.1 748.0 136.7 745.6C138.3 743.2 139.8 735.4 141.1 731.1C142.4 726.8 143.1 719.2 144.4 720.0C145.7 720.8 147.4 731.9 148.9 735.6C150.4 739.3 151.8 740.4 153.3 742.2C154.8 744.1 155.8 744.0 157.8 746.7C159.9 749.4 162.3 757.5 165.6 758.2C168.9 758.9 173.6 754.1 177.8 751.1C182.0 748.1 187.8 742.0 191.0 740.4C194.2 738.8 194.3 742.3 196.7 741.5C199.1 740.7 202.6 738.9 205.5 735.5C208.4 732.1 211.6 723.7 214.4 721.1C217.2 718.5 219.8 722.0 222.2 720.0C224.6 718.0 226.5 711.5 228.9 708.9C231.3 706.3 233.5 706.4 236.7 704.4C239.8 702.4 244.7 698.4 247.8 696.7C251.0 695.0 253.9 695.7 255.6 694.4C257.3 693.1 256.9 694.6 257.8 688.9C258.7 683.2 259.7 668.5 261.1 660.0C262.5 651.5 264.5 638.2 266.2 638.2C267.9 638.2 269.5 649.7 271.1 660.0C272.7 670.3 273.9 690.5 275.6 700.0C277.3 709.5 279.4 715.2 281.1 716.7C282.8 718.2 283.9 714.3 285.6 708.9C287.3 703.5 289.2 690.7 291.1 684.4C293.0 678.1 294.7 675.5 296.7 671.1C298.7 666.7 301.4 657.1 303.3 658.2C305.2 659.3 306.5 669.0 307.8 677.8C309.1 686.6 310.0 698.0 311.1 711.0C312.2 724.0 313.4 740.8 314.4 755.6C315.4 770.4 316.8 792.6 317.3 800.0" stroke="#c0272d" stroke-width="1.3" fill="none"/>
<path d="M58.2 624.0H81" stroke="#4a90b8" stroke-width="1.3"/>
<text x="88.2" y="627.1" font-family="Liberation Sans, sans-serif" font-size="9.2" fill="#222">data</text>
<path d="M58.2 634.9H81" stroke="#c0272d" stroke-width="1.3"/>
<text x="88.2" y="638.0" font-family="Liberation Sans, sans-serif" font-size="9.2" fill="#222">fit</text>
<path d="M58.2 646.0H81" stroke="#4db848" stroke-width="1.3"/>
<text x="88.2" y="649.1" font-family="Liberation Sans, sans-serif" font-size="9.2" fill="#222">background</text>
<text x="73.3" y="725.5" font-family="Liberation Sans, sans-serif" font-size="11" fill="#111" text-anchor="middle">Br</text>
<text x="107.8" y="720.0" font-family="Liberation Sans, sans-serif" font-size="11" fill="#111" text-anchor="middle">P</text>
<text x="126.2" y="693.3" font-family="Liberation Sans, sans-serif" font-size="11" fill="#111" text-anchor="middle">S</text>
<text x="146.7" y="713.3" font-family="Liberation Sans, sans-serif" font-size="11" fill="#111" text-anchor="middle">Cl</text>
<text x="190.0" y="732.2" font-family="Liberation Sans, sans-serif" font-size="11" fill="#111" text-anchor="middle">K</text>
<text x="211.5" y="712.5" font-family="Liberation Sans, sans-serif" font-size="11" fill="#111" text-anchor="middle">Ca</text>
<text x="268.5" y="630.5" font-family="Liberation Sans, sans-serif" font-size="11" fill="#111" text-anchor="middle">Ti</text>
<text x="253.0" y="664.0" font-family="Liberation Sans, sans-serif" font-size="11" fill="#111" text-anchor="middle">*</text>
<text x="306.5" y="656.0" font-family="Liberation Sans, sans-serif" font-size="11" fill="#111" text-anchor="middle">**</text>
<text x="104.0" y="821.2" font-family="Liberation Sans, sans-serif" font-size="11.5" fill="#111" text-anchor="middle">2</text>
<text x="168.4" y="821.2" font-family="Liberation Sans, sans-serif" font-size="11.5" fill="#111" text-anchor="middle">3</text>
<text x="232.8" y="821.2" font-family="Liberation Sans, sans-serif" font-size="11.5" fill="#111" text-anchor="middle">4</text>
<text x="297.2" y="821.2" font-family="Liberation Sans, sans-serif" font-size="11.5" fill="#111" text-anchor="middle">5</text>
<text x="20.2" y="785.5" font-family="Liberation Sans, sans-serif" font-size="11.5" fill="#111">10<tspan dy="-4.5" font-size="8">2</tspan></text>
<text x="20.2" y="723.5" font-family="Liberation Sans, sans-serif" font-size="11.5" fill="#111">10<tspan dy="-4.5" font-size="8">3</tspan></text>
<text x="20.2" y="661.5" font-family="Liberation Sans, sans-serif" font-size="11.5" fill="#111">10<tspan dy="-4.5" font-size="8">4</tspan></text>
<text x="256.2" y="839.7" font-family="Liberation Sans, sans-serif" font-size="11.5" fill="#111">ENERGY / keV</text>
<text transform="translate(12.2 725.6) rotate(-90)" font-family="Liberation Sans, sans-serif" font-size="11.5" fill="#111">INTENSITY / COUNTS</text>
<rect x="419.3" y="610.7" width="285.1" height="188.9" fill="#fff" stroke="#333" stroke-width="1"/>
<path d="M426.1 799.6v4.0M439.0 799.6v4.0M452.0 799.6v4.0M464.9 799.6v4.0M477.8 799.6v6.5M490.7 799.6v4.0M503.6 799.6v4.0M516.6 799.6v4.0M529.5 799.6v4.0M542.4 799.6v6.5M555.3 799.6v4.0M568.2 799.6v4.0M581.2 799.6v4.0M594.1 799.6v4.0M607.0 799.6v6.5M619.9 799.6v4.0M632.8 799.6v4.0M645.8 799.6v4.0M658.7 799.6v4.0M671.6 799.6v6.5M684.5 799.6v4.0M697.4 799.6v4.0M704.4 789.4h3.2M704.4 782.3h3.2M704.4 776.8h3.2M704.4 772.2h3.2M704.4 768.4h3.2M704.4 765.1h3.2M704.4 762.2h3.2M704.4 759.6h5.5M704.4 742.4h3.2M704.4 732.4h3.2M704.4 725.3h3.2M704.4 719.8h3.2M704.4 715.2h3.2M704.4 711.4h3.2M704.4 708.1h3.2M704.4 705.2h3.2M704.4 702.6h5.5M704.4 685.4h3.2M704.4 675.4h3.2M704.4 668.3h3.2M704.4 662.8h3.2M704.4 658.2h3.2M704.4 654.4h3.2M704.4 651.1h3.2M704.4 648.2h3.2M704.4 645.6h5.5M704.4 628.4h3.2M704.4 618.4h3.2" stroke="#333" stroke-width="1" fill="none"/>
<path d="M419.3 782.0C420.1 783.1 421.9 788.6 423.8 788.4C425.8 788.2 428.7 782.6 431.0 781.0C433.3 779.4 436.1 781.8 437.8 779.0C439.5 776.2 439.9 769.6 441.0 764.4C442.1 759.2 443.2 748.2 444.4 747.8C445.6 747.4 446.7 758.1 448.2 762.2C449.7 766.3 451.7 771.6 453.3 772.2C454.9 772.8 456.4 767.9 457.8 765.6C459.2 763.3 460.3 759.7 461.6 758.2C462.9 756.7 464.2 758.2 465.6 756.7C467.0 755.2 468.5 756.5 470.0 748.9C471.5 741.3 473.0 721.2 474.4 711.1C475.8 701.0 477.1 688.2 478.4 688.2C479.7 688.2 481.1 702.2 482.2 711.1C483.3 720.0 483.8 735.7 485.1 741.3C486.4 746.9 488.6 747.4 490.0 744.6C491.4 741.8 492.0 731.5 493.3 724.4C494.6 717.3 496.4 702.2 497.8 702.2C499.2 702.2 500.5 717.3 501.6 724.4C502.7 731.5 502.8 741.6 504.4 744.6C506.0 747.6 509.4 747.2 511.1 742.4C512.8 737.6 513.2 723.4 514.4 715.6C515.6 707.8 517.0 695.6 518.2 695.6C519.4 695.6 520.6 707.6 521.8 715.6C522.9 723.6 523.8 740.0 525.1 743.5C526.4 747.0 528.2 736.2 529.6 736.7C531.0 737.2 531.8 743.3 533.3 746.7C534.8 750.1 536.5 756.0 538.9 757.3C541.3 758.6 545.0 756.2 547.8 754.4C550.6 752.6 553.7 749.8 555.6 746.7C557.5 743.6 558.1 739.1 559.3 735.6C560.5 732.1 561.7 725.6 562.9 725.6C564.1 725.6 565.5 733.1 566.7 735.6C568.0 738.1 568.7 740.6 570.4 740.4C572.1 740.2 574.9 738.5 576.7 734.4C578.5 730.3 579.4 723.3 581.1 715.6C582.8 707.9 585.2 689.9 587.1 688.4C589.0 686.9 590.6 701.2 592.2 706.7C593.8 712.2 595.4 719.0 596.7 721.5C598.0 724.0 598.1 724.9 600.0 722.0C601.9 719.1 605.4 708.4 607.8 704.4C610.2 700.4 612.1 700.8 614.4 697.8C616.7 694.8 619.7 686.6 621.6 686.2C623.5 685.8 624.3 690.2 625.6 695.6C626.9 701.0 628.3 716.7 629.3 718.9C630.3 721.1 630.6 716.2 631.6 709.0C632.6 701.8 633.6 684.6 635.1 675.6C636.6 666.6 638.8 654.9 640.4 654.9C642.0 654.9 643.5 666.2 644.9 675.6C646.3 685.0 647.3 702.6 648.9 711.1C650.5 719.6 652.8 725.2 654.4 726.7C656.0 728.2 656.7 725.6 658.3 720.0C659.9 714.4 662.1 701.1 663.8 693.3C665.5 685.5 666.6 678.5 668.3 673.3C670.0 668.0 672.4 661.0 674.0 661.8C675.6 662.5 676.6 669.6 677.8 677.8C679.0 686.0 680.1 698.1 681.1 711.1C682.1 724.1 683.0 740.9 684.0 755.6C685.0 770.4 686.6 792.3 687.1 799.6" stroke="#4a90b8" stroke-width="1.3" fill="none"/>
<path d="M419.3 785.6C420.1 786.2 420.7 789.8 423.8 789.0C426.9 788.2 432.9 783.7 437.8 781.0C442.7 778.3 448.7 776.0 453.3 772.9C457.9 769.8 461.5 765.5 465.6 762.2C469.7 758.9 473.9 755.4 478.0 753.3C482.1 751.1 485.8 750.1 490.0 749.3C494.2 748.5 498.3 748.3 503.0 748.4C507.7 748.5 513.5 749.0 518.0 750.0C522.5 751.0 526.3 753.1 530.0 754.4C533.7 755.7 537.0 757.8 540.0 757.8C543.0 757.8 544.7 756.2 548.0 754.4C551.3 752.5 556.0 749.0 560.0 746.7C564.0 744.4 567.8 743.0 572.0 740.4C576.2 737.8 580.8 734.1 585.0 731.1C589.2 728.1 593.2 724.4 597.0 722.6C600.8 720.8 604.3 720.9 607.8 720.3C611.3 719.7 613.9 718.9 617.8 718.9C621.7 718.9 626.7 719.1 631.1 720.0C635.5 720.9 640.5 722.6 644.4 724.0C648.3 725.4 651.1 726.7 654.4 728.4C657.7 730.1 661.6 732.1 664.4 734.4C667.2 736.7 668.9 738.7 671.1 742.2C673.3 745.7 675.9 750.4 677.8 755.6C679.6 760.8 680.8 766.0 682.2 773.3C683.6 780.6 685.5 795.2 686.2 799.6" stroke="#4db848" stroke-width="1.3" fill="none"/>
<path d="M419.3 782.0C420.1 783.1 421.9 788.6 423.8 788.4C425.8 788.2 428.7 782.6 431.0 781.0C433.3 779.4 436.1 781.8 437.8 779.0C439.5 776.2 439.9 769.6 441.0 764.4C442.1 759.2 443.2 748.2 444.4 747.8C445.6 747.4 446.7 758.1 448.2 762.2C449.7 766.3 451.7 771.6 453.3 772.2C454.9 772.8 456.4 767.9 457.8 765.6C459.2 763.3 460.3 759.7 461.6 758.2C462.9 756.7 464.2 758.2 465.6 756.7C467.0 755.2 468.5 756.5 470.0 748.9C471.5 741.3 473.0 721.2 474.4 711.1C475.8 701.0 477.1 688.2 478.4 688.2C479.7 688.2 481.1 702.8 482.2 711.1C483.3 719.4 483.8 732.8 485.1 737.8C486.4 742.8 488.6 743.3 490.0 741.1C491.4 738.9 492.0 730.9 493.3 724.4C494.6 717.9 496.4 702.2 497.8 702.2C499.2 702.2 500.5 717.9 501.6 724.4C502.7 730.9 502.8 738.7 504.4 741.1C506.0 743.5 509.4 743.1 511.1 738.9C512.8 734.6 513.2 722.8 514.4 715.6C515.6 708.4 517.0 695.6 518.2 695.6C519.4 695.6 520.6 708.2 521.8 715.6C522.9 723.0 523.8 736.5 525.1 740.0C526.4 743.5 528.2 735.6 529.6 736.7C531.0 737.8 531.8 743.3 533.3 746.7C534.8 750.1 536.5 756.0 538.9 757.3C541.3 758.6 545.0 756.2 547.8 754.4C550.6 752.6 553.7 749.8 555.6 746.7C557.5 743.6 558.1 739.1 559.3 735.6C560.5 732.1 561.7 725.6 562.9 725.6C564.1 725.6 565.5 733.1 566.7 735.6C568.0 738.1 568.7 740.6 570.4 740.4C572.1 740.2 574.9 738.5 576.7 734.4C578.5 730.3 579.4 723.3 581.1 715.6C582.8 707.9 585.2 689.9 587.1 688.4C589.0 686.9 590.6 701.2 592.2 706.7C593.8 712.2 595.2 719.1 596.7 721.5C598.2 723.9 599.2 722.6 601.1 721.1C603.0 719.6 605.8 713.4 607.8 712.7C609.8 712.0 611.1 716.2 613.3 716.7C615.5 717.2 618.7 716.6 621.1 716.0C623.5 715.4 626.1 715.2 627.8 713.3C629.5 711.4 629.9 710.7 631.1 704.4C632.3 698.1 633.6 683.9 635.1 675.6C636.6 667.4 638.8 654.9 640.4 654.9C642.0 654.9 643.5 666.2 644.9 675.6C646.3 685.0 647.3 702.6 648.9 711.1C650.5 719.6 652.7 725.2 654.4 726.7C656.1 728.2 657.2 725.6 658.9 720.0C660.6 714.4 662.7 701.1 664.4 693.3C666.1 685.5 667.3 678.5 668.9 673.3C670.5 668.0 672.5 661.0 674.0 661.8C675.5 662.5 676.6 669.6 677.8 677.8C679.0 686.0 680.1 698.1 681.1 711.1C682.1 724.1 683.0 740.9 684.0 755.6C685.0 770.4 686.6 792.3 687.1 799.6" stroke="#c0272d" stroke-width="1.3" fill="none"/>
<text x="445.6" y="740.0" font-family="Liberation Sans, sans-serif" font-size="11" fill="#111" text-anchor="middle">Br</text>
<text x="481.6" y="683.3" font-family="Liberation Sans, sans-serif" font-size="11" fill="#111" text-anchor="middle">P</text>
<text x="500.4" y="695.6" font-family="Liberation Sans, sans-serif" font-size="11" fill="#111" text-anchor="middle">S</text>
<text x="518.9" y="691.6" font-family="Liberation Sans, sans-serif" font-size="11" fill="#111" text-anchor="middle">Cl</text>
<text x="564.4" y="720.0" font-family="Liberation Sans, sans-serif" font-size="11" fill="#111" text-anchor="middle">K</text>
<text x="588.9" y="682.2" font-family="Liberation Sans, sans-serif" font-size="11" fill="#111" text-anchor="middle">Ca</text>
<text x="642.9" y="649.3" font-family="Liberation Sans, sans-serif" font-size="11" fill="#111" text-anchor="middle">Ti</text>
<text x="625.6" y="682.0" font-family="Liberation Sans, sans-serif" font-size="11" fill="#111" text-anchor="middle">*</text>
<text x="677.1" y="658.5" font-family="Liberation Sans, sans-serif" font-size="11" fill="#111" text-anchor="middle">**</text>
<text x="477.8" y="821.2" font-family="Liberation Sans, sans-serif" font-size="11.5" fill="#111" text-anchor="middle">2</text>
<text x="542.4" y="821.2" font-family="Liberation Sans, sans-serif" font-size="11.5" fill="#111" text-anchor="middle">3</text>
<text x="607.0" y="821.2" font-family="Liberation Sans, sans-serif" font-size="11.5" fill="#111" text-anchor="middle">4</text>
<text x="671.6" y="821.2" font-family="Liberation Sans, sans-serif" font-size="11.5" fill="#111" text-anchor="middle">5</text>
<text x="715.6" y="764.0" font-family="Liberation Sans, sans-serif" font-size="11.5" fill="#111">10<tspan dy="-4.5" font-size="8">4</tspan></text>
<text x="715.6" y="707.0" font-family="Liberation Sans, sans-serif" font-size="11.5" fill="#111">10<tspan dy="-4.5" font-size="8">5</tspan></text>
<text x="715.6" y="650.0" font-family="Liberation Sans, sans-serif" font-size="11.5" fill="#111">10<tspan dy="-4.5" font-size="8">6</tspan></text>
<text x="421.6" y="839.7" font-family="Liberation Sans, sans-serif" font-size="11.5" fill="#111">ENERGY / keV</text>
<rect x="139.6" y="905.7" width="270" height="229.3" fill="#fff" stroke="#333" stroke-width="1"/>
<path d="M140 1117.5H409" stroke="#e4e4e4" stroke-width="1"/>
<path d="M140 1047.1H409" stroke="#e4e4e4" stroke-width="1"/>
<path d="M140 976.7H409" stroke="#e4e4e4" stroke-width="1"/>
<path d="M139.6 1117.5h-7.5M139.6 1082.3h-4.5M139.6 1047.1h-7.5M139.6 1011.9h-4.5M139.6 976.7h-7.5M139.6 941.5h-4.5M139.6 906.3h-7.5M216.6 1135v7M313.1 1135v7M409.6 1135v7" stroke="#333" stroke-width="1" fill="none"/>
<path d="M139.6 976.4C143.1 976.4 156.1 976.5 160.6 976.0C165.1 975.5 165.0 974.2 166.7 973.4C168.4 972.6 169.6 971.6 170.8 971.3C172.0 971.1 172.8 971.8 173.8 971.7C174.8 971.7 175.7 970.9 176.9 970.9C178.1 970.9 179.6 972.5 181.0 971.7C182.3 971.0 183.5 968.0 185.0 966.2C186.6 964.5 188.6 964.4 190.1 961.1C191.7 957.9 192.8 951.5 194.2 946.9C195.6 942.3 197.3 936.3 198.3 933.6C199.3 931.0 199.3 930.7 200.3 931.0C201.3 931.2 202.5 933.8 204.4 935.1C206.3 936.3 209.3 938.1 211.5 938.3C213.7 938.5 215.6 937.0 217.6 936.3C219.7 935.6 221.2 934.8 223.8 934.2C226.3 933.7 230.6 932.8 232.9 933.2C235.3 933.6 235.8 935.0 238.0 936.7C240.2 938.4 243.6 941.6 246.2 943.2C248.7 944.8 250.6 945.8 253.3 946.3C256.0 946.7 259.3 945.9 262.5 945.9C265.7 945.9 268.9 946.4 272.7 946.3C276.4 946.1 282.0 945.1 284.9 944.8C287.9 944.5 286.1 944.8 290.4 944.4C294.7 944.0 304.0 943.0 310.8 942.4C317.6 941.8 325.4 941.4 331.1 940.8C336.9 940.2 341.3 939.0 345.4 938.7C349.5 938.5 351.2 938.8 355.6 939.1C360.0 939.5 366.5 940.5 371.9 940.8C377.4 941.0 382.2 940.5 388.2 940.8C394.2 941.0 404.7 942.1 408.0 942.4" stroke="#e8923a" stroke-width="1.3" fill="none" stroke-linejoin="round"/>
<path d="M139.6 1011.5C143.1 1011.5 156.1 1011.8 160.6 1011.5C165.1 1011.2 165.1 1010.6 166.7 1009.7C168.3 1008.7 169.1 1006.4 170.2 1006.0C171.2 1005.6 171.8 1007.0 172.8 1007.0C173.9 1007.0 175.1 1006.1 176.5 1006.0C177.8 1005.9 179.7 1007.4 181.0 1006.4C182.2 1005.4 182.8 1002.3 184.0 999.9C185.2 997.4 186.7 994.1 188.1 991.7C189.5 989.3 190.8 988.3 192.2 985.6C193.5 982.9 195.0 978.5 196.2 975.4C197.5 972.4 198.6 968.5 199.7 967.3C200.8 966.0 201.9 968.3 203.0 967.9C204.1 967.5 205.2 965.7 206.4 964.8C207.6 964.0 208.9 962.5 210.1 962.8C211.3 963.0 211.8 964.3 213.6 966.2C215.3 968.2 218.3 973.9 220.7 974.4C223.1 974.9 225.6 970.7 227.8 969.3C230.0 967.9 232.3 966.4 234.0 966.2C235.7 966.1 236.2 966.9 238.0 968.3C239.9 969.6 242.8 972.5 245.2 974.4C247.5 976.3 250.3 978.7 252.3 979.5C254.3 980.3 255.4 979.3 257.4 979.1C259.4 978.8 262.0 977.9 264.5 978.1C267.1 978.2 270.0 979.4 272.7 979.9C275.4 980.4 278.5 981.0 280.8 981.1C283.2 981.3 287.1 980.7 287.0 980.7C286.8 980.7 279.6 981.3 280.2 981.1C280.8 981.0 287.0 980.4 290.4 979.9C293.8 979.4 297.2 978.9 300.6 978.1C304.0 977.2 307.7 975.4 310.8 974.8C313.8 974.2 315.5 974.4 318.9 974.6C322.3 974.8 326.7 975.6 331.1 975.8C335.6 976.1 340.7 976.1 345.4 976.0C350.2 976.0 354.6 975.5 359.7 975.6C364.8 975.8 370.9 976.9 376.0 977.0C381.1 977.2 384.9 976.2 390.3 976.2C395.6 976.3 405.0 977.3 408.0 977.5" stroke="#cf55c8" stroke-width="1.3" fill="none" stroke-linejoin="round"/>
<path d="M139.6 1046.8C141.2 1046.9 145.9 1047.4 149.4 1047.4C152.9 1047.3 157.7 1046.8 160.6 1046.4C163.5 1045.9 165.1 1045.5 166.7 1044.7C168.3 1043.9 169.1 1041.9 170.2 1041.5C171.2 1041.1 172.2 1042.3 173.2 1042.3C174.3 1042.3 175.2 1041.5 176.5 1041.5C177.8 1041.5 179.7 1042.9 181.0 1042.3C182.2 1041.6 182.8 1039.7 184.0 1037.6C185.2 1035.4 186.7 1031.6 188.1 1029.4C189.5 1027.2 190.8 1026.9 192.2 1024.3C193.5 1021.8 194.9 1017.5 196.2 1014.1C197.6 1010.7 199.1 1005.5 200.3 1004.0C201.5 1002.4 202.4 1005.0 203.4 1005.0C204.4 1004.9 205.3 1004.1 206.4 1003.5C207.6 1003.0 208.9 1001.9 210.1 1001.9C211.3 1001.9 211.8 1002.4 213.6 1003.5C215.3 1004.7 218.3 1008.6 220.7 1009.1C223.1 1009.5 225.6 1007.0 227.8 1006.0C230.1 1005.0 232.7 1003.3 234.4 1003.1C236.1 1003.0 236.2 1003.6 238.0 1005.0C239.8 1006.3 242.8 1009.3 245.2 1011.1C247.5 1012.9 250.3 1014.9 252.3 1015.6C254.3 1016.3 255.4 1015.4 257.4 1015.2C259.4 1015.0 262.0 1014.2 264.5 1014.3C267.1 1014.5 270.0 1015.8 272.7 1016.2C275.4 1016.6 278.5 1016.8 280.8 1016.8C283.2 1016.8 287.1 1016.2 287.0 1016.2C286.8 1016.2 279.6 1017.1 280.2 1017.0C280.8 1016.9 287.0 1016.3 290.4 1015.8C293.8 1015.3 297.2 1014.9 300.6 1014.1C304.0 1013.4 307.7 1011.7 310.8 1011.1C313.8 1010.5 315.5 1010.6 318.9 1010.7C322.3 1010.7 325.0 1011.3 331.1 1011.3C337.3 1011.3 348.1 1010.7 355.6 1010.9C363.1 1011.0 370.6 1012.0 376.0 1012.1C381.4 1012.2 382.9 1011.4 388.2 1011.5C393.6 1011.6 404.7 1012.5 408.0 1012.7" stroke="#2b8fc0" stroke-width="1.3" fill="none" stroke-linejoin="round"/>
<path d="M139.6 1082.0C143.1 1082.0 156.2 1082.3 160.6 1082.0C164.9 1081.8 164.1 1081.7 165.7 1080.4C167.2 1079.1 168.6 1075.0 169.7 1074.3C170.9 1073.6 171.8 1076.2 172.8 1076.3C173.8 1076.4 174.7 1074.7 175.9 1074.7C177.1 1074.7 178.7 1076.9 179.9 1076.5C181.2 1076.1 182.2 1074.5 183.4 1072.2C184.6 1070.0 185.8 1065.4 187.1 1063.1C188.4 1060.7 189.8 1060.7 191.1 1058.0C192.5 1055.3 193.9 1050.7 195.2 1046.8C196.6 1042.8 198.1 1036.2 199.3 1034.1C200.5 1032.1 201.3 1035.0 202.4 1034.5C203.4 1034.1 204.6 1032.5 205.8 1031.5C207.1 1030.5 208.6 1028.4 209.9 1028.4C211.2 1028.4 212.0 1030.0 213.6 1031.5C215.1 1032.9 217.4 1037.0 219.1 1037.0C220.8 1037.0 222.3 1033.1 223.8 1031.5C225.2 1029.9 226.5 1029.0 227.8 1027.4C229.2 1025.8 230.7 1021.9 231.9 1021.9C233.1 1021.9 233.4 1024.8 235.0 1027.4C236.5 1030.0 238.9 1034.7 241.1 1037.6C243.3 1040.5 246.0 1043.2 248.2 1044.7C250.4 1046.2 252.3 1046.8 254.3 1046.8C256.4 1046.8 258.8 1045.2 260.5 1044.7C262.2 1044.3 262.5 1043.7 264.5 1044.1C266.6 1044.5 270.0 1046.5 272.7 1047.2C275.4 1047.9 278.5 1048.3 280.8 1048.4C283.2 1048.5 287.4 1048.0 287.0 1048.0C286.5 1047.9 277.6 1048.3 278.2 1048.2C278.7 1048.1 287.2 1047.2 290.4 1047.4C293.6 1047.5 294.8 1049.3 297.5 1049.0C300.2 1048.7 303.6 1046.5 306.7 1045.7C309.7 1045.0 312.8 1044.6 315.9 1044.7C318.9 1044.9 321.5 1046.0 325.0 1046.8C328.6 1047.5 333.2 1048.5 337.3 1049.2C341.3 1050.0 345.8 1051.0 349.5 1051.2C353.2 1051.5 355.9 1050.8 359.7 1050.8C363.4 1050.9 366.5 1051.4 371.9 1051.4C377.4 1051.5 386.3 1051.3 392.3 1051.2C398.3 1051.2 405.4 1051.2 408.0 1051.2" stroke="#3a3a3a" stroke-width="1.3" fill="none" stroke-linejoin="round"/>
<path d="M139.6 1117.5L140.1 1117.5L140.6 1117.5L141.3 1117.5L142.0 1117.5L142.9 1117.5L143.7 1117.5L144.6 1117.5L145.6 1117.6L146.6 1117.6L147.6 1117.6L148.7 1117.6L149.8 1117.6L150.8 1117.6L151.9 1117.6L152.9 1117.6L154.0 1117.6L155.0 1117.6L156.0 1117.6L156.9 1117.6L157.8 1117.6L158.6 1117.6L159.3 1117.6L160.0 1117.5L160.6 1117.5L162.4 1117.3L163.5 1117.1L164.2 1116.9L164.6 1116.6L165.1 1116.3L165.7 1115.8L166.6 1114.6L167.4 1113.6L168.2 1111.8L169.0 1110.7L169.7 1110.3L170.6 1110.8L171.3 1111.2L172.1 1111.8L172.8 1112.5L173.5 1112.2L174.3 1111.5L175.0 1111.5L175.9 1111.2L176.6 1110.9L177.4 1111.6L178.3 1112.0L179.1 1112.6L179.9 1112.2L180.8 1110.9L181.7 1110.1L182.5 1107.5L183.4 1105.8L184.1 1104.2L184.8 1101.3L185.6 1099.3L186.3 1096.6L187.1 1095.4L187.9 1094.4L188.7 1093.5L189.5 1093.2L190.3 1091.8L191.1 1090.8L192.0 1088.5L192.8 1085.9L193.6 1082.8L194.4 1080.3L195.2 1078.5L196.1 1074.8L196.9 1072.8L197.7 1068.8L198.6 1068.6L199.3 1067.1L200.1 1067.6L200.8 1067.8L201.5 1067.3L202.4 1067.9L203.1 1068.2L203.9 1065.8L204.8 1066.1L205.6 1064.5L206.4 1063.7L207.3 1063.0L208.1 1064.4L209.0 1062.3L209.8 1062.4L210.5 1062.8L211.3 1064.4L212.0 1063.0L212.7 1064.9L213.6 1066.3L214.3 1068.0L215.1 1068.9L216.0 1070.2L216.9 1069.8L217.8 1071.2L218.7 1071.9L219.5 1074.0L220.3 1074.9L221.2 1073.4L222.0 1073.9L222.9 1074.3L223.8 1074.2L224.6 1074.4L225.4 1074.0L226.3 1072.2L227.2 1070.5L228.1 1070.5L229.0 1069.5L229.9 1069.4L230.8 1069.8L231.7 1068.7L232.6 1067.9L233.4 1067.8L234.3 1067.8L235.2 1066.2L236.0 1068.6L236.9 1068.8L237.7 1069.9L238.5 1070.7L239.3 1070.7L240.1 1071.9L241.1 1072.2L241.9 1074.4L242.8 1073.8L243.7 1074.6L244.6 1075.9L245.5 1076.6L246.5 1077.9L247.4 1077.9L248.2 1078.5L249.1 1079.6L250.0 1080.2L250.9 1081.5L251.8 1081.2L252.6 1083.9L253.5 1083.6L254.3 1082.5L255.2 1082.8L256.1 1082.8L257.0 1082.4L257.9 1081.3L258.8 1082.7L259.6 1082.6L260.5 1080.9L261.3 1080.6L262.2 1079.1L263.0 1078.8L263.8 1079.1L264.7 1078.7L265.5 1080.2L266.3 1078.7L267.1 1078.8L267.9 1081.7L268.8 1081.2L269.7 1080.9L270.6 1082.5L271.7 1081.6L272.4 1083.2L273.2 1084.6L274.0 1084.6L274.9 1084.4L275.8 1083.5L276.7 1084.0L277.6 1083.7L278.5 1085.4L279.3 1085.0L280.1 1085.7L280.8 1084.6L282.0 1084.4L283.2 1085.8L284.3 1086.0L285.4 1085.4L286.2 1085.1L286.8 1085.0L287.0 1084.7L286.6 1083.4L285.8 1084.3L284.6 1084.1L283.3 1083.4L282.1 1083.6L281.0 1084.4L280.3 1084.5L280.2 1085.6L280.5 1086.2L280.9 1084.7L281.6 1085.8L282.4 1085.7L283.3 1085.4L284.4 1083.6L285.4 1083.0L286.5 1082.8L287.6 1082.5L288.6 1082.3L289.6 1083.3L290.4 1083.9L291.3 1083.7L292.1 1082.8L293.0 1083.3L293.8 1083.8L294.6 1082.1L295.4 1083.7L296.2 1084.5L296.9 1084.2L297.7 1084.2L298.5 1083.4L299.3 1082.4L300.1 1083.8L300.9 1082.3L301.7 1083.2L302.5 1083.3L303.3 1081.4L304.1 1081.0L304.9 1082.1L305.8 1081.2L306.7 1079.5L307.5 1079.2L308.3 1079.1L309.1 1080.9L310.0 1080.5L310.9 1078.6L311.8 1080.2L312.7 1080.5L313.6 1079.6L314.4 1078.7L315.3 1079.1L316.1 1078.0L316.9 1077.7L317.8 1080.2L318.6 1079.5L319.3 1079.3L320.1 1080.6L320.8 1079.5L321.6 1080.8L322.4 1080.9L323.2 1079.5L324.1 1079.8L325.0 1080.1L325.8 1080.0L326.6 1081.0L327.5 1080.2L328.4 1080.7L329.4 1080.0L330.3 1082.0L331.3 1080.6L332.2 1081.0L333.2 1081.3L334.1 1082.2L335.0 1081.0L335.8 1082.4L336.6 1081.3L337.3 1081.5L338.4 1081.7L339.2 1080.6L339.9 1082.0L340.5 1081.6L341.2 1081.3L342.1 1083.6L343.4 1082.0L344.1 1082.8L344.8 1083.4L345.6 1082.8L346.5 1082.1L347.4 1082.5L348.3 1082.5L349.3 1083.0L350.3 1081.1L351.2 1082.1L352.2 1081.2L353.2 1081.1L354.2 1082.3L355.1 1081.5L356.0 1081.6L356.9 1082.1L357.6 1082.5L358.6 1081.3L359.6 1081.8L360.4 1081.7L361.3 1081.9L362.1 1082.5L362.9 1082.1L363.7 1082.5L364.4 1082.6L365.2 1084.0L366.1 1083.6L366.9 1084.3L367.8 1084.6L368.7 1083.0L369.5 1083.9L370.3 1085.0L371.2 1084.9L372.1 1083.2L372.9 1083.3L373.8 1084.3L374.7 1083.4L375.6 1084.0L376.5 1083.7L377.4 1085.3L378.3 1085.7L379.2 1086.1L380.1 1084.2L380.9 1085.7L381.8 1085.5L382.7 1084.1L383.6 1086.0L384.5 1086.2L385.4 1084.1L386.3 1086.0L387.2 1084.4L388.1 1084.6L389.0 1085.8L389.8 1085.4L390.7 1083.6L391.5 1084.3L392.3 1084.5L393.2 1084.1L394.2 1083.8L395.1 1084.2L396.0 1085.3L396.9 1083.6L397.8 1085.2L398.7 1085.0L399.5 1084.0L400.3 1085.0L401.1 1085.9L401.8 1085.8L402.5 1084.8L403.6 1087.4L404.6 1087.2L405.5 1088.1L406.3 1086.1L407.0 1086.9L407.5 1086.5L408.0 1088.7" stroke="#c8262c" stroke-width="1.3" fill="none" stroke-linejoin="round"/>
<text x="125" y="1120.5" font-family="Liberation Sans, sans-serif" font-size="11.5" fill="#111" text-anchor="end">0</text>
<text x="125" y="1050.1" font-family="Liberation Sans, sans-serif" font-size="11.5" fill="#111" text-anchor="end">2</text>
<text x="125" y="979.7" font-family="Liberation Sans, sans-serif" font-size="11.5" fill="#111" text-anchor="end">4</text>
<text x="216.6" y="1156.3" font-family="Liberation Sans, sans-serif" font-size="11.5" fill="#111" text-anchor="middle">5000</text>
<text x="313.1" y="1156.3" font-family="Liberation Sans, sans-serif" font-size="11.5" fill="#111" text-anchor="middle">5050</text>
<text x="412.6" y="1156.3" font-family="Liberation Sans, sans-serif" font-size="11.5" fill="#111" text-anchor="middle">5100</text>
<text x="346.8" y="1174.6" font-family="Liberation Sans, sans-serif" font-size="11.75" fill="#111">ENERGY / eV</text>
<text transform="translate(108.6 1010.6) rotate(-90)" font-family="Liberation Sans, sans-serif" font-size="11.5" fill="#111">NORMALIZED xµ(E)</text>
<path d="M427.3 1081.6H456.7" stroke="#e8923a" stroke-width="1.3"/>
<text x="462" y="1084.7" font-family="Liberation Sans, sans-serif" font-size="9.75" fill="#111">ANATASE</text>
<path d="M427.3 1093.0H456.7" stroke="#cf55c8" stroke-width="1.3"/>
<text x="462" y="1096.1" font-family="Liberation Sans, sans-serif" font-size="9.75" fill="#111">RUTILE</text>
<path d="M427.3 1104.5H456.7" stroke="#2b8fc0" stroke-width="1.3"/>
<text x="462" y="1107.6" font-family="Liberation Sans, sans-serif" font-size="9.75" fill="#111">RUTILE / ANATASE (80/20)</text>
<path d="M427.3 1115.9H456.7" stroke="#3a3a3a" stroke-width="1.3"/>
<text x="462" y="1119.0" font-family="Liberation Sans, sans-serif" font-size="9.75" fill="#111">DONOR 4 - LYMPH NODE</text>
<path d="M427.3 1127.4H456.7" stroke="#c8262c" stroke-width="1.3"/>
<text x="462" y="1130.5" font-family="Liberation Sans, sans-serif" font-size="9.75" fill="#111">DONOR 4 - SKIN</text>
</svg>
</body></html>
